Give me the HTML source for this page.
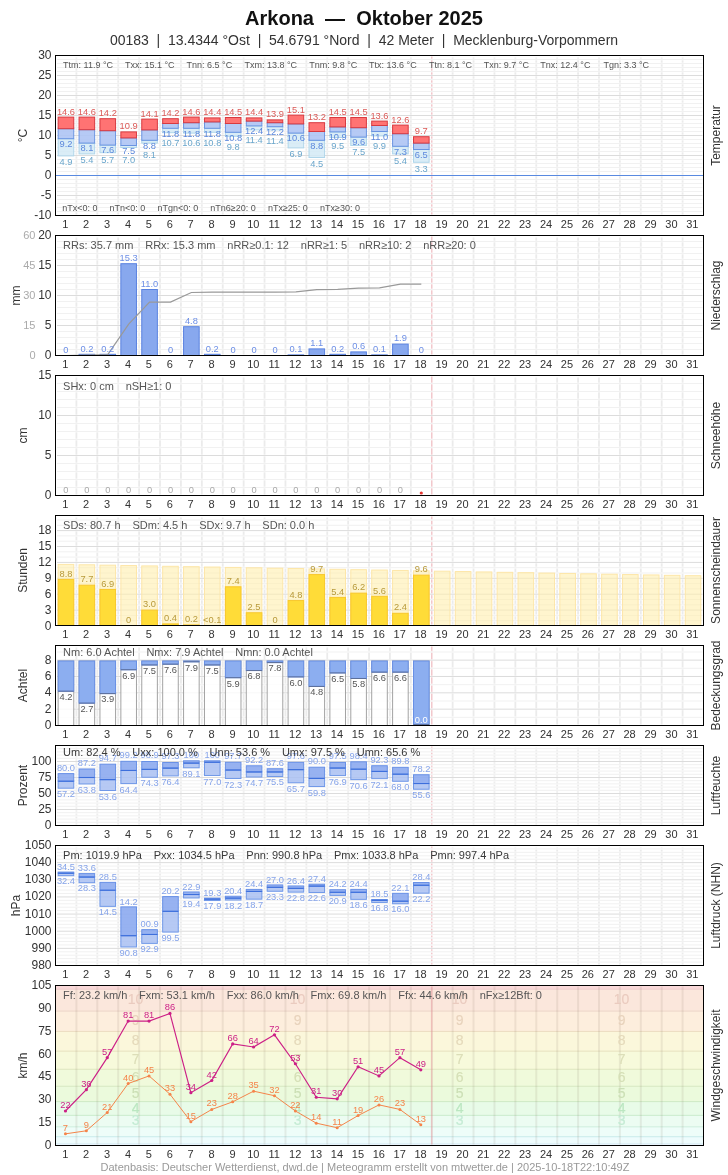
<!DOCTYPE html>
<html><head><meta charset="utf-8"><title>Arkona - Oktober 2025</title>
<style>
html,body{margin:0;padding:0;background:#fff;}
svg{display:block;}
svg text{font-family:"Liberation Sans",Arial,sans-serif;white-space:pre;}
</style></head><body>
<svg width="728" height="1175" viewBox="0 0 728 1175">
<rect x="0" y="0" width="728" height="1175" fill="#fff"/>
<text x="364" y="24.7" font-size="20" fill="#111" text-anchor="middle" font-weight="bold">Arkona  —  Oktober 2025</text>
<text x="364" y="44.8" font-size="14" fill="#333" text-anchor="middle">00183  |  13.4344 °Ost  |  54.6791 °Nord  |  42 Meter  |  Mecklenburg-Vorpommern</text>
<line x1="76.4" y1="57.5" x2="76.4" y2="214.5" stroke="#ebebeb" stroke-width="1.8"/>
<line x1="97.31" y1="57.5" x2="97.31" y2="214.5" stroke="#ebebeb" stroke-width="1.8"/>
<line x1="118.21" y1="57.5" x2="118.21" y2="214.5" stroke="#ebebeb" stroke-width="1.8"/>
<line x1="139.11" y1="57.5" x2="139.11" y2="214.5" stroke="#ebebeb" stroke-width="1.8"/>
<line x1="160.02" y1="57.5" x2="160.02" y2="214.5" stroke="#ebebeb" stroke-width="1.8"/>
<line x1="180.92" y1="57.5" x2="180.92" y2="214.5" stroke="#ebebeb" stroke-width="1.8"/>
<line x1="201.82" y1="57.5" x2="201.82" y2="214.5" stroke="#ebebeb" stroke-width="1.8"/>
<line x1="222.73" y1="57.5" x2="222.73" y2="214.5" stroke="#ebebeb" stroke-width="1.8"/>
<line x1="243.63" y1="57.5" x2="243.63" y2="214.5" stroke="#ebebeb" stroke-width="1.8"/>
<line x1="264.53" y1="57.5" x2="264.53" y2="214.5" stroke="#ebebeb" stroke-width="1.8"/>
<line x1="285.44" y1="57.5" x2="285.44" y2="214.5" stroke="#ebebeb" stroke-width="1.8"/>
<line x1="306.34" y1="57.5" x2="306.34" y2="214.5" stroke="#ebebeb" stroke-width="1.8"/>
<line x1="327.24" y1="57.5" x2="327.24" y2="214.5" stroke="#ebebeb" stroke-width="1.8"/>
<line x1="348.15" y1="57.5" x2="348.15" y2="214.5" stroke="#ebebeb" stroke-width="1.8"/>
<line x1="369.05" y1="57.5" x2="369.05" y2="214.5" stroke="#ebebeb" stroke-width="1.8"/>
<line x1="389.95" y1="57.5" x2="389.95" y2="214.5" stroke="#ebebeb" stroke-width="1.8"/>
<line x1="410.85" y1="57.5" x2="410.85" y2="214.5" stroke="#ebebeb" stroke-width="1.8"/>
<line x1="452.66" y1="57.5" x2="452.66" y2="214.5" stroke="#ebebeb" stroke-width="1.8"/>
<line x1="473.56" y1="57.5" x2="473.56" y2="214.5" stroke="#ebebeb" stroke-width="1.8"/>
<line x1="494.47" y1="57.5" x2="494.47" y2="214.5" stroke="#ebebeb" stroke-width="1.8"/>
<line x1="515.37" y1="57.5" x2="515.37" y2="214.5" stroke="#ebebeb" stroke-width="1.8"/>
<line x1="536.27" y1="57.5" x2="536.27" y2="214.5" stroke="#ebebeb" stroke-width="1.8"/>
<line x1="557.18" y1="57.5" x2="557.18" y2="214.5" stroke="#ebebeb" stroke-width="1.8"/>
<line x1="578.08" y1="57.5" x2="578.08" y2="214.5" stroke="#ebebeb" stroke-width="1.8"/>
<line x1="598.98" y1="57.5" x2="598.98" y2="214.5" stroke="#ebebeb" stroke-width="1.8"/>
<line x1="619.89" y1="57.5" x2="619.89" y2="214.5" stroke="#ebebeb" stroke-width="1.8"/>
<line x1="640.79" y1="57.5" x2="640.79" y2="214.5" stroke="#ebebeb" stroke-width="1.8"/>
<line x1="661.69" y1="57.5" x2="661.69" y2="214.5" stroke="#ebebeb" stroke-width="1.8"/>
<line x1="682.6" y1="57.5" x2="682.6" y2="214.5" stroke="#ebebeb" stroke-width="1.8"/>
<line x1="431.76" y1="56.5" x2="431.76" y2="214.5" stroke="#f2c8cc" stroke-width="1.5"/>
<line x1="57" y1="211.5" x2="702.5" y2="211.5" stroke="#fff" stroke-width="2.2" stroke-opacity="0.6"/>
<line x1="57" y1="211.5" x2="702.5" y2="211.5" stroke="#f1f1f1" stroke-width="1"/>
<line x1="57" y1="207.5" x2="702.5" y2="207.5" stroke="#fff" stroke-width="2.2" stroke-opacity="0.6"/>
<line x1="57" y1="207.5" x2="702.5" y2="207.5" stroke="#f1f1f1" stroke-width="1"/>
<line x1="57" y1="203.5" x2="702.5" y2="203.5" stroke="#fff" stroke-width="2.2" stroke-opacity="0.6"/>
<line x1="57" y1="203.5" x2="702.5" y2="203.5" stroke="#f1f1f1" stroke-width="1"/>
<line x1="57" y1="199.5" x2="702.5" y2="199.5" stroke="#fff" stroke-width="2.2" stroke-opacity="0.6"/>
<line x1="57" y1="199.5" x2="702.5" y2="199.5" stroke="#f1f1f1" stroke-width="1"/>
<line x1="57" y1="195.5" x2="702.5" y2="195.5" stroke="#fff" stroke-width="2.2" stroke-opacity="0.6"/>
<line x1="57" y1="195.5" x2="702.5" y2="195.5" stroke="#dcdcdc" stroke-width="1"/>
<line x1="57" y1="191.5" x2="702.5" y2="191.5" stroke="#fff" stroke-width="2.2" stroke-opacity="0.6"/>
<line x1="57" y1="191.5" x2="702.5" y2="191.5" stroke="#f1f1f1" stroke-width="1"/>
<line x1="57" y1="187.5" x2="702.5" y2="187.5" stroke="#fff" stroke-width="2.2" stroke-opacity="0.6"/>
<line x1="57" y1="187.5" x2="702.5" y2="187.5" stroke="#f1f1f1" stroke-width="1"/>
<line x1="57" y1="183.5" x2="702.5" y2="183.5" stroke="#fff" stroke-width="2.2" stroke-opacity="0.6"/>
<line x1="57" y1="183.5" x2="702.5" y2="183.5" stroke="#f1f1f1" stroke-width="1"/>
<line x1="57" y1="179.5" x2="702.5" y2="179.5" stroke="#fff" stroke-width="2.2" stroke-opacity="0.6"/>
<line x1="57" y1="179.5" x2="702.5" y2="179.5" stroke="#f1f1f1" stroke-width="1"/>
<line x1="57" y1="175.5" x2="702.5" y2="175.5" stroke="#fff" stroke-width="2.2" stroke-opacity="0.6"/>
<line x1="57" y1="175.5" x2="702.5" y2="175.5" stroke="#dcdcdc" stroke-width="1"/>
<line x1="57" y1="171.5" x2="702.5" y2="171.5" stroke="#fff" stroke-width="2.2" stroke-opacity="0.6"/>
<line x1="57" y1="171.5" x2="702.5" y2="171.5" stroke="#f1f1f1" stroke-width="1"/>
<line x1="57" y1="167.5" x2="702.5" y2="167.5" stroke="#fff" stroke-width="2.2" stroke-opacity="0.6"/>
<line x1="57" y1="167.5" x2="702.5" y2="167.5" stroke="#f1f1f1" stroke-width="1"/>
<line x1="57" y1="163.5" x2="702.5" y2="163.5" stroke="#fff" stroke-width="2.2" stroke-opacity="0.6"/>
<line x1="57" y1="163.5" x2="702.5" y2="163.5" stroke="#f1f1f1" stroke-width="1"/>
<line x1="57" y1="159.5" x2="702.5" y2="159.5" stroke="#fff" stroke-width="2.2" stroke-opacity="0.6"/>
<line x1="57" y1="159.5" x2="702.5" y2="159.5" stroke="#f1f1f1" stroke-width="1"/>
<line x1="57" y1="155.5" x2="702.5" y2="155.5" stroke="#fff" stroke-width="2.2" stroke-opacity="0.6"/>
<line x1="57" y1="155.5" x2="702.5" y2="155.5" stroke="#dcdcdc" stroke-width="1"/>
<line x1="57" y1="151.5" x2="702.5" y2="151.5" stroke="#fff" stroke-width="2.2" stroke-opacity="0.6"/>
<line x1="57" y1="151.5" x2="702.5" y2="151.5" stroke="#f1f1f1" stroke-width="1"/>
<line x1="57" y1="147.5" x2="702.5" y2="147.5" stroke="#fff" stroke-width="2.2" stroke-opacity="0.6"/>
<line x1="57" y1="147.5" x2="702.5" y2="147.5" stroke="#f1f1f1" stroke-width="1"/>
<line x1="57" y1="143.5" x2="702.5" y2="143.5" stroke="#fff" stroke-width="2.2" stroke-opacity="0.6"/>
<line x1="57" y1="143.5" x2="702.5" y2="143.5" stroke="#f1f1f1" stroke-width="1"/>
<line x1="57" y1="139.5" x2="702.5" y2="139.5" stroke="#fff" stroke-width="2.2" stroke-opacity="0.6"/>
<line x1="57" y1="139.5" x2="702.5" y2="139.5" stroke="#f1f1f1" stroke-width="1"/>
<line x1="57" y1="135.5" x2="702.5" y2="135.5" stroke="#fff" stroke-width="2.2" stroke-opacity="0.6"/>
<line x1="57" y1="135.5" x2="702.5" y2="135.5" stroke="#dcdcdc" stroke-width="1"/>
<line x1="57" y1="131.5" x2="702.5" y2="131.5" stroke="#fff" stroke-width="2.2" stroke-opacity="0.6"/>
<line x1="57" y1="131.5" x2="702.5" y2="131.5" stroke="#f1f1f1" stroke-width="1"/>
<line x1="57" y1="127.5" x2="702.5" y2="127.5" stroke="#fff" stroke-width="2.2" stroke-opacity="0.6"/>
<line x1="57" y1="127.5" x2="702.5" y2="127.5" stroke="#f1f1f1" stroke-width="1"/>
<line x1="57" y1="123.5" x2="702.5" y2="123.5" stroke="#fff" stroke-width="2.2" stroke-opacity="0.6"/>
<line x1="57" y1="123.5" x2="702.5" y2="123.5" stroke="#f1f1f1" stroke-width="1"/>
<line x1="57" y1="119.5" x2="702.5" y2="119.5" stroke="#fff" stroke-width="2.2" stroke-opacity="0.6"/>
<line x1="57" y1="119.5" x2="702.5" y2="119.5" stroke="#f1f1f1" stroke-width="1"/>
<line x1="57" y1="115.5" x2="702.5" y2="115.5" stroke="#fff" stroke-width="2.2" stroke-opacity="0.6"/>
<line x1="57" y1="115.5" x2="702.5" y2="115.5" stroke="#dcdcdc" stroke-width="1"/>
<line x1="57" y1="111.5" x2="702.5" y2="111.5" stroke="#fff" stroke-width="2.2" stroke-opacity="0.6"/>
<line x1="57" y1="111.5" x2="702.5" y2="111.5" stroke="#f1f1f1" stroke-width="1"/>
<line x1="57" y1="107.5" x2="702.5" y2="107.5" stroke="#fff" stroke-width="2.2" stroke-opacity="0.6"/>
<line x1="57" y1="107.5" x2="702.5" y2="107.5" stroke="#f1f1f1" stroke-width="1"/>
<line x1="57" y1="103.5" x2="702.5" y2="103.5" stroke="#fff" stroke-width="2.2" stroke-opacity="0.6"/>
<line x1="57" y1="103.5" x2="702.5" y2="103.5" stroke="#f1f1f1" stroke-width="1"/>
<line x1="57" y1="99.5" x2="702.5" y2="99.5" stroke="#fff" stroke-width="2.2" stroke-opacity="0.6"/>
<line x1="57" y1="99.5" x2="702.5" y2="99.5" stroke="#f1f1f1" stroke-width="1"/>
<line x1="57" y1="95.5" x2="702.5" y2="95.5" stroke="#fff" stroke-width="2.2" stroke-opacity="0.6"/>
<line x1="57" y1="95.5" x2="702.5" y2="95.5" stroke="#dcdcdc" stroke-width="1"/>
<line x1="57" y1="91.5" x2="702.5" y2="91.5" stroke="#fff" stroke-width="2.2" stroke-opacity="0.6"/>
<line x1="57" y1="91.5" x2="702.5" y2="91.5" stroke="#f1f1f1" stroke-width="1"/>
<line x1="57" y1="87.5" x2="702.5" y2="87.5" stroke="#fff" stroke-width="2.2" stroke-opacity="0.6"/>
<line x1="57" y1="87.5" x2="702.5" y2="87.5" stroke="#f1f1f1" stroke-width="1"/>
<line x1="57" y1="83.5" x2="702.5" y2="83.5" stroke="#fff" stroke-width="2.2" stroke-opacity="0.6"/>
<line x1="57" y1="83.5" x2="702.5" y2="83.5" stroke="#f1f1f1" stroke-width="1"/>
<line x1="57" y1="79.5" x2="702.5" y2="79.5" stroke="#fff" stroke-width="2.2" stroke-opacity="0.6"/>
<line x1="57" y1="79.5" x2="702.5" y2="79.5" stroke="#f1f1f1" stroke-width="1"/>
<line x1="57" y1="75.5" x2="702.5" y2="75.5" stroke="#fff" stroke-width="2.2" stroke-opacity="0.6"/>
<line x1="57" y1="75.5" x2="702.5" y2="75.5" stroke="#dcdcdc" stroke-width="1"/>
<line x1="57" y1="71.5" x2="702.5" y2="71.5" stroke="#fff" stroke-width="2.2" stroke-opacity="0.6"/>
<line x1="57" y1="71.5" x2="702.5" y2="71.5" stroke="#f1f1f1" stroke-width="1"/>
<line x1="57" y1="67.5" x2="702.5" y2="67.5" stroke="#fff" stroke-width="2.2" stroke-opacity="0.6"/>
<line x1="57" y1="67.5" x2="702.5" y2="67.5" stroke="#f1f1f1" stroke-width="1"/>
<line x1="57" y1="63.5" x2="702.5" y2="63.5" stroke="#fff" stroke-width="2.2" stroke-opacity="0.6"/>
<line x1="57" y1="63.5" x2="702.5" y2="63.5" stroke="#f1f1f1" stroke-width="1"/>
<line x1="57" y1="59.5" x2="702.5" y2="59.5" stroke="#fff" stroke-width="2.2" stroke-opacity="0.6"/>
<line x1="57" y1="59.5" x2="702.5" y2="59.5" stroke="#f1f1f1" stroke-width="1"/>
<line x1="55.5" y1="175.5" x2="703.5" y2="175.5" stroke="#5a8ae0" stroke-width="1"/>
<rect x="58.15" y="138.7" width="15.6" height="17.2" fill="#d4eaf6" stroke="#b0d6ea" stroke-width="1" fill-opacity="0.85"/>
<rect x="58.15" y="128.7" width="15.6" height="10" fill="#aec4f4" stroke="#6a94e2" stroke-width="1" fill-opacity="0.9"/>
<rect x="58.15" y="117.1" width="15.6" height="11.6" fill="#ff6b6b" stroke="#d83a40" stroke-width="1" fill-opacity="0.95"/>
<rect x="79.05" y="143.1" width="15.6" height="10.8" fill="#d4eaf6" stroke="#b0d6ea" stroke-width="1" fill-opacity="0.85"/>
<rect x="79.05" y="129.7" width="15.6" height="13.4" fill="#aec4f4" stroke="#6a94e2" stroke-width="1" fill-opacity="0.9"/>
<rect x="79.05" y="117.1" width="15.6" height="12.6" fill="#ff6b6b" stroke="#d83a40" stroke-width="1" fill-opacity="0.95"/>
<rect x="99.96" y="145.1" width="15.6" height="7.6" fill="#d4eaf6" stroke="#b0d6ea" stroke-width="1" fill-opacity="0.85"/>
<rect x="99.96" y="130.7" width="15.6" height="14.4" fill="#aec4f4" stroke="#6a94e2" stroke-width="1" fill-opacity="0.9"/>
<rect x="99.96" y="118.7" width="15.6" height="12" fill="#ff6b6b" stroke="#d83a40" stroke-width="1" fill-opacity="0.95"/>
<rect x="120.86" y="145.5" width="15.6" height="2" fill="#d4eaf6" stroke="#b0d6ea" stroke-width="1" fill-opacity="0.85"/>
<rect x="120.86" y="137.9" width="15.6" height="7.6" fill="#aec4f4" stroke="#6a94e2" stroke-width="1" fill-opacity="0.9"/>
<rect x="120.86" y="131.9" width="15.6" height="6" fill="#ff6b6b" stroke="#d83a40" stroke-width="1" fill-opacity="0.95"/>
<rect x="141.76" y="140.3" width="15.6" height="2.8" fill="#d4eaf6" stroke="#b0d6ea" stroke-width="1" fill-opacity="0.85"/>
<rect x="141.76" y="129.9" width="15.6" height="10.4" fill="#aec4f4" stroke="#6a94e2" stroke-width="1" fill-opacity="0.9"/>
<rect x="141.76" y="119.1" width="15.6" height="10.8" fill="#ff6b6b" stroke="#d83a40" stroke-width="1" fill-opacity="0.95"/>
<rect x="162.67" y="128.3" width="15.6" height="4.4" fill="#d4eaf6" stroke="#b0d6ea" stroke-width="1" fill-opacity="0.85"/>
<rect x="162.67" y="123.5" width="15.6" height="4.8" fill="#aec4f4" stroke="#6a94e2" stroke-width="1" fill-opacity="0.9"/>
<rect x="162.67" y="118.7" width="15.6" height="4.8" fill="#ff6b6b" stroke="#d83a40" stroke-width="1" fill-opacity="0.95"/>
<rect x="183.57" y="128.3" width="15.6" height="4.8" fill="#d4eaf6" stroke="#b0d6ea" stroke-width="1" fill-opacity="0.85"/>
<rect x="183.57" y="122.7" width="15.6" height="5.6" fill="#aec4f4" stroke="#6a94e2" stroke-width="1" fill-opacity="0.9"/>
<rect x="183.57" y="117.1" width="15.6" height="5.6" fill="#ff6b6b" stroke="#d83a40" stroke-width="1" fill-opacity="0.95"/>
<rect x="204.47" y="128.3" width="15.6" height="4" fill="#d4eaf6" stroke="#b0d6ea" stroke-width="1" fill-opacity="0.85"/>
<rect x="204.47" y="121.9" width="15.6" height="6.4" fill="#aec4f4" stroke="#6a94e2" stroke-width="1" fill-opacity="0.9"/>
<rect x="204.47" y="117.9" width="15.6" height="4" fill="#ff6b6b" stroke="#d83a40" stroke-width="1" fill-opacity="0.95"/>
<rect x="225.38" y="132.3" width="15.6" height="4" fill="#d4eaf6" stroke="#b0d6ea" stroke-width="1" fill-opacity="0.85"/>
<rect x="225.38" y="123.5" width="15.6" height="8.8" fill="#aec4f4" stroke="#6a94e2" stroke-width="1" fill-opacity="0.9"/>
<rect x="225.38" y="117.5" width="15.6" height="6" fill="#ff6b6b" stroke="#d83a40" stroke-width="1" fill-opacity="0.95"/>
<rect x="246.28" y="125.9" width="15.6" height="4" fill="#d4eaf6" stroke="#b0d6ea" stroke-width="1" fill-opacity="0.85"/>
<rect x="246.28" y="121.1" width="15.6" height="4.8" fill="#aec4f4" stroke="#6a94e2" stroke-width="1" fill-opacity="0.9"/>
<rect x="246.28" y="117.9" width="15.6" height="3.2" fill="#ff6b6b" stroke="#d83a40" stroke-width="1" fill-opacity="0.95"/>
<rect x="267.18" y="126.7" width="15.6" height="3.2" fill="#d4eaf6" stroke="#b0d6ea" stroke-width="1" fill-opacity="0.85"/>
<rect x="267.18" y="122.7" width="15.6" height="4" fill="#aec4f4" stroke="#6a94e2" stroke-width="1" fill-opacity="0.9"/>
<rect x="267.18" y="119.9" width="15.6" height="2.8" fill="#ff6b6b" stroke="#d83a40" stroke-width="1" fill-opacity="0.95"/>
<rect x="288.09" y="133.1" width="15.6" height="14.8" fill="#d4eaf6" stroke="#b0d6ea" stroke-width="1" fill-opacity="0.85"/>
<rect x="288.09" y="123.9" width="15.6" height="9.2" fill="#aec4f4" stroke="#6a94e2" stroke-width="1" fill-opacity="0.9"/>
<rect x="288.09" y="115.1" width="15.6" height="8.8" fill="#ff6b6b" stroke="#d83a40" stroke-width="1" fill-opacity="0.95"/>
<rect x="308.99" y="140.3" width="15.6" height="17.2" fill="#d4eaf6" stroke="#b0d6ea" stroke-width="1" fill-opacity="0.85"/>
<rect x="308.99" y="131.5" width="15.6" height="8.8" fill="#aec4f4" stroke="#6a94e2" stroke-width="1" fill-opacity="0.9"/>
<rect x="308.99" y="122.7" width="15.6" height="8.8" fill="#ff6b6b" stroke="#d83a40" stroke-width="1" fill-opacity="0.95"/>
<rect x="329.89" y="131.9" width="15.6" height="5.6" fill="#d4eaf6" stroke="#b0d6ea" stroke-width="1" fill-opacity="0.85"/>
<rect x="329.89" y="126.9" width="15.6" height="5" fill="#aec4f4" stroke="#6a94e2" stroke-width="1" fill-opacity="0.9"/>
<rect x="329.89" y="117.5" width="15.6" height="9.4" fill="#ff6b6b" stroke="#d83a40" stroke-width="1" fill-opacity="0.95"/>
<rect x="350.8" y="137.1" width="15.6" height="8.4" fill="#d4eaf6" stroke="#b0d6ea" stroke-width="1" fill-opacity="0.85"/>
<rect x="350.8" y="127.7" width="15.6" height="9.4" fill="#aec4f4" stroke="#6a94e2" stroke-width="1" fill-opacity="0.9"/>
<rect x="350.8" y="117.5" width="15.6" height="10.2" fill="#ff6b6b" stroke="#d83a40" stroke-width="1" fill-opacity="0.95"/>
<rect x="371.7" y="131.5" width="15.6" height="4.4" fill="#d4eaf6" stroke="#b0d6ea" stroke-width="1" fill-opacity="0.85"/>
<rect x="371.7" y="125.5" width="15.6" height="6" fill="#aec4f4" stroke="#6a94e2" stroke-width="1" fill-opacity="0.9"/>
<rect x="371.7" y="121.1" width="15.6" height="4.4" fill="#ff6b6b" stroke="#d83a40" stroke-width="1" fill-opacity="0.95"/>
<rect x="392.6" y="146.3" width="15.6" height="7.6" fill="#d4eaf6" stroke="#b0d6ea" stroke-width="1" fill-opacity="0.85"/>
<rect x="392.6" y="133.7" width="15.6" height="12.6" fill="#aec4f4" stroke="#6a94e2" stroke-width="1" fill-opacity="0.9"/>
<rect x="392.6" y="125.1" width="15.6" height="8.6" fill="#ff6b6b" stroke="#d83a40" stroke-width="1" fill-opacity="0.95"/>
<rect x="413.51" y="149.5" width="15.6" height="12.8" fill="#d4eaf6" stroke="#b0d6ea" stroke-width="1" fill-opacity="0.85"/>
<rect x="413.51" y="143.1" width="15.6" height="6.4" fill="#aec4f4" stroke="#6a94e2" stroke-width="1" fill-opacity="0.9"/>
<rect x="413.51" y="136.7" width="15.6" height="6.4" fill="#ff6b6b" stroke="#d83a40" stroke-width="1" fill-opacity="0.95"/>
<text x="65.95" y="114.6" font-size="9.3" fill="#dc5a58" text-anchor="middle">14.6</text>
<text x="65.95" y="146.9" font-size="9.3" fill="#5b87dc" text-anchor="middle">9.2</text>
<text x="65.95" y="165.1" font-size="9.3" fill="#6aa6cc" text-anchor="middle">4.9</text>
<text x="86.85" y="114.6" font-size="9.3" fill="#dc5a58" text-anchor="middle">14.6</text>
<text x="86.85" y="151.3" font-size="9.3" fill="#5b87dc" text-anchor="middle">8.1</text>
<text x="86.85" y="163.1" font-size="9.3" fill="#6aa6cc" text-anchor="middle">5.4</text>
<text x="107.76" y="116.2" font-size="9.3" fill="#dc5a58" text-anchor="middle">14.2</text>
<text x="107.76" y="153.3" font-size="9.3" fill="#5b87dc" text-anchor="middle">7.6</text>
<text x="107.76" y="162.5" font-size="9.3" fill="#6aa6cc" text-anchor="middle">5.7</text>
<text x="128.66" y="129.4" font-size="9.3" fill="#dc5a58" text-anchor="middle">10.9</text>
<text x="128.66" y="153.7" font-size="9.3" fill="#5b87dc" text-anchor="middle">7.5</text>
<text x="128.66" y="162.9" font-size="9.3" fill="#6aa6cc" text-anchor="middle">7.0</text>
<text x="149.56" y="116.6" font-size="9.3" fill="#dc5a58" text-anchor="middle">14.1</text>
<text x="149.56" y="148.5" font-size="9.3" fill="#5b87dc" text-anchor="middle">8.8</text>
<text x="149.56" y="157.7" font-size="9.3" fill="#6aa6cc" text-anchor="middle">8.1</text>
<text x="170.47" y="116.2" font-size="9.3" fill="#dc5a58" text-anchor="middle">14.2</text>
<text x="170.47" y="136.5" font-size="9.3" fill="#5b87dc" text-anchor="middle">11.8</text>
<text x="170.47" y="145.7" font-size="9.3" fill="#6aa6cc" text-anchor="middle">10.7</text>
<text x="191.37" y="114.6" font-size="9.3" fill="#dc5a58" text-anchor="middle">14.6</text>
<text x="191.37" y="136.5" font-size="9.3" fill="#5b87dc" text-anchor="middle">11.8</text>
<text x="191.37" y="145.7" font-size="9.3" fill="#6aa6cc" text-anchor="middle">10.6</text>
<text x="212.27" y="115.4" font-size="9.3" fill="#dc5a58" text-anchor="middle">14.4</text>
<text x="212.27" y="136.5" font-size="9.3" fill="#5b87dc" text-anchor="middle">11.8</text>
<text x="212.27" y="145.7" font-size="9.3" fill="#6aa6cc" text-anchor="middle">10.8</text>
<text x="233.18" y="115" font-size="9.3" fill="#dc5a58" text-anchor="middle">14.5</text>
<text x="233.18" y="140.5" font-size="9.3" fill="#5b87dc" text-anchor="middle">10.8</text>
<text x="233.18" y="149.7" font-size="9.3" fill="#6aa6cc" text-anchor="middle">9.8</text>
<text x="254.08" y="115.4" font-size="9.3" fill="#dc5a58" text-anchor="middle">14.4</text>
<text x="254.08" y="134.1" font-size="9.3" fill="#5b87dc" text-anchor="middle">12.4</text>
<text x="254.08" y="143.3" font-size="9.3" fill="#6aa6cc" text-anchor="middle">11.4</text>
<text x="274.98" y="117.4" font-size="9.3" fill="#dc5a58" text-anchor="middle">13.9</text>
<text x="274.98" y="134.9" font-size="9.3" fill="#5b87dc" text-anchor="middle">12.2</text>
<text x="274.98" y="144.1" font-size="9.3" fill="#6aa6cc" text-anchor="middle">11.4</text>
<text x="295.89" y="112.6" font-size="9.3" fill="#dc5a58" text-anchor="middle">15.1</text>
<text x="295.89" y="141.3" font-size="9.3" fill="#5b87dc" text-anchor="middle">10.6</text>
<text x="295.89" y="157.1" font-size="9.3" fill="#6aa6cc" text-anchor="middle">6.9</text>
<text x="316.79" y="120.2" font-size="9.3" fill="#dc5a58" text-anchor="middle">13.2</text>
<text x="316.79" y="148.5" font-size="9.3" fill="#5b87dc" text-anchor="middle">8.8</text>
<text x="316.79" y="166.7" font-size="9.3" fill="#6aa6cc" text-anchor="middle">4.5</text>
<text x="337.69" y="115" font-size="9.3" fill="#dc5a58" text-anchor="middle">14.5</text>
<text x="337.69" y="140.1" font-size="9.3" fill="#5b87dc" text-anchor="middle">10.9</text>
<text x="337.69" y="149.3" font-size="9.3" fill="#6aa6cc" text-anchor="middle">9.5</text>
<text x="358.6" y="115" font-size="9.3" fill="#dc5a58" text-anchor="middle">14.5</text>
<text x="358.6" y="145.3" font-size="9.3" fill="#5b87dc" text-anchor="middle">9.6</text>
<text x="358.6" y="154.7" font-size="9.3" fill="#6aa6cc" text-anchor="middle">7.5</text>
<text x="379.5" y="118.6" font-size="9.3" fill="#dc5a58" text-anchor="middle">13.6</text>
<text x="379.5" y="139.7" font-size="9.3" fill="#5b87dc" text-anchor="middle">11.0</text>
<text x="379.5" y="148.9" font-size="9.3" fill="#6aa6cc" text-anchor="middle">9.9</text>
<text x="400.4" y="122.6" font-size="9.3" fill="#dc5a58" text-anchor="middle">12.6</text>
<text x="400.4" y="154.5" font-size="9.3" fill="#5b87dc" text-anchor="middle">7.3</text>
<text x="400.4" y="163.7" font-size="9.3" fill="#6aa6cc" text-anchor="middle">5.4</text>
<text x="421.31" y="134.2" font-size="9.3" fill="#dc5a58" text-anchor="middle">9.7</text>
<text x="421.31" y="157.7" font-size="9.3" fill="#5b87dc" text-anchor="middle">6.5</text>
<text x="421.31" y="171.5" font-size="9.3" fill="#6aa6cc" text-anchor="middle">3.3</text>
<rect x="55.5" y="55.5" width="648" height="160" fill="none" stroke="#000" stroke-width="1"/>
<text x="63.1" y="68" font-size="9" fill="#555" text-anchor="start">Ttm: 11.9 °C</text>
<text x="125" y="68" font-size="9" fill="#555" text-anchor="start">Txx: 15.1 °C</text>
<text x="186.6" y="68" font-size="9" fill="#555" text-anchor="start">Tnn: 6.5 °C</text>
<text x="244.4" y="68" font-size="9" fill="#555" text-anchor="start">Txm: 13.8 °C</text>
<text x="309.2" y="68" font-size="9" fill="#555" text-anchor="start">Tnm: 9.8 °C</text>
<text x="369.1" y="68" font-size="9" fill="#555" text-anchor="start">Ttx: 13.6 °C</text>
<text x="428.9" y="68" font-size="9" fill="#555" text-anchor="start">Ttn: 8.1 °C</text>
<text x="483.8" y="68" font-size="9" fill="#555" text-anchor="start">Txn: 9.7 °C</text>
<text x="540.3" y="68" font-size="9" fill="#555" text-anchor="start">Tnx: 12.4 °C</text>
<text x="603.4" y="68" font-size="9" fill="#555" text-anchor="start">Tgn: 3.3 °C</text>
<text x="62.2" y="211.1" font-size="9" fill="#555" text-anchor="start">nTx&lt;0: 0</text>
<text x="109.57" y="211.1" font-size="9" fill="#555" text-anchor="start">nTn&lt;0: 0</text>
<text x="157.45" y="211.1" font-size="9" fill="#555" text-anchor="start">nTgn&lt;0: 0</text>
<text x="210.33" y="211.1" font-size="9" fill="#555" text-anchor="start">nTn6≥20: 0</text>
<text x="267.9" y="211.1" font-size="9" fill="#555" text-anchor="start">nTx≥25: 0</text>
<text x="319.96" y="211.1" font-size="9" fill="#555" text-anchor="start">nTx≥30: 0</text>
<text x="51.5" y="59" font-size="12" fill="#333" text-anchor="end">30</text>
<text x="51.5" y="79" font-size="12" fill="#333" text-anchor="end">25</text>
<text x="51.5" y="99" font-size="12" fill="#333" text-anchor="end">20</text>
<text x="51.5" y="119" font-size="12" fill="#333" text-anchor="end">15</text>
<text x="51.5" y="139" font-size="12" fill="#333" text-anchor="end">10</text>
<text x="51.5" y="159" font-size="12" fill="#333" text-anchor="end">5</text>
<text x="51.5" y="179" font-size="12" fill="#333" text-anchor="end">0</text>
<text x="51.5" y="199" font-size="12" fill="#333" text-anchor="end">-5</text>
<text x="51.5" y="219" font-size="12" fill="#333" text-anchor="end">-10</text>
<text x="0" y="0" font-size="12" fill="#333" text-anchor="middle" transform="translate(27,135.5) rotate(-90)">°C</text>
<text x="0" y="0" font-size="12" fill="#333" text-anchor="middle" transform="translate(720,135.5) rotate(-90)">Temperatur</text>
<text x="65.25" y="228" font-size="11" fill="#333" text-anchor="middle">1</text>
<text x="86.15" y="228" font-size="11" fill="#333" text-anchor="middle">2</text>
<text x="107.06" y="228" font-size="11" fill="#333" text-anchor="middle">3</text>
<text x="127.96" y="228" font-size="11" fill="#333" text-anchor="middle">4</text>
<text x="148.86" y="228" font-size="11" fill="#333" text-anchor="middle">5</text>
<text x="169.77" y="228" font-size="11" fill="#333" text-anchor="middle">6</text>
<text x="190.67" y="228" font-size="11" fill="#333" text-anchor="middle">7</text>
<text x="211.57" y="228" font-size="11" fill="#333" text-anchor="middle">8</text>
<text x="232.48" y="228" font-size="11" fill="#333" text-anchor="middle">9</text>
<text x="253.38" y="228" font-size="11" fill="#333" text-anchor="middle">10</text>
<text x="274.28" y="228" font-size="11" fill="#333" text-anchor="middle">11</text>
<text x="295.19" y="228" font-size="11" fill="#333" text-anchor="middle">12</text>
<text x="316.09" y="228" font-size="11" fill="#333" text-anchor="middle">13</text>
<text x="336.99" y="228" font-size="11" fill="#333" text-anchor="middle">14</text>
<text x="357.9" y="228" font-size="11" fill="#333" text-anchor="middle">15</text>
<text x="378.8" y="228" font-size="11" fill="#333" text-anchor="middle">16</text>
<text x="399.7" y="228" font-size="11" fill="#333" text-anchor="middle">17</text>
<text x="420.61" y="228" font-size="11" fill="#333" text-anchor="middle">18</text>
<text x="441.51" y="228" font-size="11" fill="#333" text-anchor="middle">19</text>
<text x="462.41" y="228" font-size="11" fill="#333" text-anchor="middle">20</text>
<text x="483.32" y="228" font-size="11" fill="#333" text-anchor="middle">21</text>
<text x="504.22" y="228" font-size="11" fill="#333" text-anchor="middle">22</text>
<text x="525.12" y="228" font-size="11" fill="#333" text-anchor="middle">23</text>
<text x="546.03" y="228" font-size="11" fill="#333" text-anchor="middle">24</text>
<text x="566.93" y="228" font-size="11" fill="#333" text-anchor="middle">25</text>
<text x="587.83" y="228" font-size="11" fill="#333" text-anchor="middle">26</text>
<text x="608.74" y="228" font-size="11" fill="#333" text-anchor="middle">27</text>
<text x="629.64" y="228" font-size="11" fill="#333" text-anchor="middle">28</text>
<text x="650.54" y="228" font-size="11" fill="#333" text-anchor="middle">29</text>
<text x="671.45" y="228" font-size="11" fill="#333" text-anchor="middle">30</text>
<text x="692.35" y="228" font-size="11" fill="#333" text-anchor="middle">31</text>
<line x1="76.4" y1="237.5" x2="76.4" y2="354.5" stroke="#ebebeb" stroke-width="1.8"/>
<line x1="97.31" y1="237.5" x2="97.31" y2="354.5" stroke="#ebebeb" stroke-width="1.8"/>
<line x1="118.21" y1="237.5" x2="118.21" y2="354.5" stroke="#ebebeb" stroke-width="1.8"/>
<line x1="139.11" y1="237.5" x2="139.11" y2="354.5" stroke="#ebebeb" stroke-width="1.8"/>
<line x1="160.02" y1="237.5" x2="160.02" y2="354.5" stroke="#ebebeb" stroke-width="1.8"/>
<line x1="180.92" y1="237.5" x2="180.92" y2="354.5" stroke="#ebebeb" stroke-width="1.8"/>
<line x1="201.82" y1="237.5" x2="201.82" y2="354.5" stroke="#ebebeb" stroke-width="1.8"/>
<line x1="222.73" y1="237.5" x2="222.73" y2="354.5" stroke="#ebebeb" stroke-width="1.8"/>
<line x1="243.63" y1="237.5" x2="243.63" y2="354.5" stroke="#ebebeb" stroke-width="1.8"/>
<line x1="264.53" y1="237.5" x2="264.53" y2="354.5" stroke="#ebebeb" stroke-width="1.8"/>
<line x1="285.44" y1="237.5" x2="285.44" y2="354.5" stroke="#ebebeb" stroke-width="1.8"/>
<line x1="306.34" y1="237.5" x2="306.34" y2="354.5" stroke="#ebebeb" stroke-width="1.8"/>
<line x1="327.24" y1="237.5" x2="327.24" y2="354.5" stroke="#ebebeb" stroke-width="1.8"/>
<line x1="348.15" y1="237.5" x2="348.15" y2="354.5" stroke="#ebebeb" stroke-width="1.8"/>
<line x1="369.05" y1="237.5" x2="369.05" y2="354.5" stroke="#ebebeb" stroke-width="1.8"/>
<line x1="389.95" y1="237.5" x2="389.95" y2="354.5" stroke="#ebebeb" stroke-width="1.8"/>
<line x1="410.85" y1="237.5" x2="410.85" y2="354.5" stroke="#ebebeb" stroke-width="1.8"/>
<line x1="452.66" y1="237.5" x2="452.66" y2="354.5" stroke="#ebebeb" stroke-width="1.8"/>
<line x1="473.56" y1="237.5" x2="473.56" y2="354.5" stroke="#ebebeb" stroke-width="1.8"/>
<line x1="494.47" y1="237.5" x2="494.47" y2="354.5" stroke="#ebebeb" stroke-width="1.8"/>
<line x1="515.37" y1="237.5" x2="515.37" y2="354.5" stroke="#ebebeb" stroke-width="1.8"/>
<line x1="536.27" y1="237.5" x2="536.27" y2="354.5" stroke="#ebebeb" stroke-width="1.8"/>
<line x1="557.18" y1="237.5" x2="557.18" y2="354.5" stroke="#ebebeb" stroke-width="1.8"/>
<line x1="578.08" y1="237.5" x2="578.08" y2="354.5" stroke="#ebebeb" stroke-width="1.8"/>
<line x1="598.98" y1="237.5" x2="598.98" y2="354.5" stroke="#ebebeb" stroke-width="1.8"/>
<line x1="619.89" y1="237.5" x2="619.89" y2="354.5" stroke="#ebebeb" stroke-width="1.8"/>
<line x1="640.79" y1="237.5" x2="640.79" y2="354.5" stroke="#ebebeb" stroke-width="1.8"/>
<line x1="661.69" y1="237.5" x2="661.69" y2="354.5" stroke="#ebebeb" stroke-width="1.8"/>
<line x1="682.6" y1="237.5" x2="682.6" y2="354.5" stroke="#ebebeb" stroke-width="1.8"/>
<line x1="431.76" y1="236.5" x2="431.76" y2="354.5" stroke="#f2c8cc" stroke-width="1.5"/>
<line x1="57" y1="349.5" x2="702.5" y2="349.5" stroke="#fff" stroke-width="2.2" stroke-opacity="0.6"/>
<line x1="57" y1="349.5" x2="702.5" y2="349.5" stroke="#f1f1f1" stroke-width="1"/>
<line x1="57" y1="343.5" x2="702.5" y2="343.5" stroke="#fff" stroke-width="2.2" stroke-opacity="0.6"/>
<line x1="57" y1="343.5" x2="702.5" y2="343.5" stroke="#f1f1f1" stroke-width="1"/>
<line x1="57" y1="337.5" x2="702.5" y2="337.5" stroke="#fff" stroke-width="2.2" stroke-opacity="0.6"/>
<line x1="57" y1="337.5" x2="702.5" y2="337.5" stroke="#f1f1f1" stroke-width="1"/>
<line x1="57" y1="331.5" x2="702.5" y2="331.5" stroke="#fff" stroke-width="2.2" stroke-opacity="0.6"/>
<line x1="57" y1="331.5" x2="702.5" y2="331.5" stroke="#f1f1f1" stroke-width="1"/>
<line x1="57" y1="325.5" x2="702.5" y2="325.5" stroke="#fff" stroke-width="2.2" stroke-opacity="0.6"/>
<line x1="57" y1="325.5" x2="702.5" y2="325.5" stroke="#dcdcdc" stroke-width="1"/>
<line x1="57" y1="319.5" x2="702.5" y2="319.5" stroke="#fff" stroke-width="2.2" stroke-opacity="0.6"/>
<line x1="57" y1="319.5" x2="702.5" y2="319.5" stroke="#f1f1f1" stroke-width="1"/>
<line x1="57" y1="313.5" x2="702.5" y2="313.5" stroke="#fff" stroke-width="2.2" stroke-opacity="0.6"/>
<line x1="57" y1="313.5" x2="702.5" y2="313.5" stroke="#f1f1f1" stroke-width="1"/>
<line x1="57" y1="307.5" x2="702.5" y2="307.5" stroke="#fff" stroke-width="2.2" stroke-opacity="0.6"/>
<line x1="57" y1="307.5" x2="702.5" y2="307.5" stroke="#f1f1f1" stroke-width="1"/>
<line x1="57" y1="301.5" x2="702.5" y2="301.5" stroke="#fff" stroke-width="2.2" stroke-opacity="0.6"/>
<line x1="57" y1="301.5" x2="702.5" y2="301.5" stroke="#f1f1f1" stroke-width="1"/>
<line x1="57" y1="295.5" x2="702.5" y2="295.5" stroke="#fff" stroke-width="2.2" stroke-opacity="0.6"/>
<line x1="57" y1="295.5" x2="702.5" y2="295.5" stroke="#dcdcdc" stroke-width="1"/>
<line x1="57" y1="289.5" x2="702.5" y2="289.5" stroke="#fff" stroke-width="2.2" stroke-opacity="0.6"/>
<line x1="57" y1="289.5" x2="702.5" y2="289.5" stroke="#f1f1f1" stroke-width="1"/>
<line x1="57" y1="283.5" x2="702.5" y2="283.5" stroke="#fff" stroke-width="2.2" stroke-opacity="0.6"/>
<line x1="57" y1="283.5" x2="702.5" y2="283.5" stroke="#f1f1f1" stroke-width="1"/>
<line x1="57" y1="277.5" x2="702.5" y2="277.5" stroke="#fff" stroke-width="2.2" stroke-opacity="0.6"/>
<line x1="57" y1="277.5" x2="702.5" y2="277.5" stroke="#f1f1f1" stroke-width="1"/>
<line x1="57" y1="271.5" x2="702.5" y2="271.5" stroke="#fff" stroke-width="2.2" stroke-opacity="0.6"/>
<line x1="57" y1="271.5" x2="702.5" y2="271.5" stroke="#f1f1f1" stroke-width="1"/>
<line x1="57" y1="265.5" x2="702.5" y2="265.5" stroke="#fff" stroke-width="2.2" stroke-opacity="0.6"/>
<line x1="57" y1="265.5" x2="702.5" y2="265.5" stroke="#dcdcdc" stroke-width="1"/>
<line x1="57" y1="259.5" x2="702.5" y2="259.5" stroke="#fff" stroke-width="2.2" stroke-opacity="0.6"/>
<line x1="57" y1="259.5" x2="702.5" y2="259.5" stroke="#f1f1f1" stroke-width="1"/>
<line x1="57" y1="253.5" x2="702.5" y2="253.5" stroke="#fff" stroke-width="2.2" stroke-opacity="0.6"/>
<line x1="57" y1="253.5" x2="702.5" y2="253.5" stroke="#f1f1f1" stroke-width="1"/>
<line x1="57" y1="247.5" x2="702.5" y2="247.5" stroke="#fff" stroke-width="2.2" stroke-opacity="0.6"/>
<line x1="57" y1="247.5" x2="702.5" y2="247.5" stroke="#f1f1f1" stroke-width="1"/>
<line x1="57" y1="241.5" x2="702.5" y2="241.5" stroke="#fff" stroke-width="2.2" stroke-opacity="0.6"/>
<line x1="57" y1="241.5" x2="702.5" y2="241.5" stroke="#f1f1f1" stroke-width="1"/>
<rect x="79.05" y="354.3" width="15.6" height="1.2" fill="#88a8ee" stroke="#5a82e0" stroke-width="1"/>
<rect x="99.96" y="354.3" width="15.6" height="1.2" fill="#88a8ee" stroke="#5a82e0" stroke-width="1"/>
<rect x="120.86" y="263.7" width="15.6" height="91.8" fill="#88a8ee" stroke="#5a82e0" stroke-width="1"/>
<rect x="141.76" y="289.5" width="15.6" height="66" fill="#88a8ee" stroke="#5a82e0" stroke-width="1"/>
<rect x="183.57" y="326.7" width="15.6" height="28.8" fill="#88a8ee" stroke="#5a82e0" stroke-width="1"/>
<rect x="204.47" y="354.3" width="15.6" height="1.2" fill="#88a8ee" stroke="#5a82e0" stroke-width="1"/>
<rect x="288.09" y="354.9" width="15.6" height="0.6" fill="#88a8ee" stroke="#5a82e0" stroke-width="1"/>
<rect x="308.99" y="348.9" width="15.6" height="6.6" fill="#88a8ee" stroke="#5a82e0" stroke-width="1"/>
<rect x="329.89" y="354.3" width="15.6" height="1.2" fill="#88a8ee" stroke="#5a82e0" stroke-width="1"/>
<rect x="350.8" y="351.9" width="15.6" height="3.6" fill="#88a8ee" stroke="#5a82e0" stroke-width="1"/>
<rect x="371.7" y="354.9" width="15.6" height="0.6" fill="#88a8ee" stroke="#5a82e0" stroke-width="1"/>
<rect x="392.6" y="344.1" width="15.6" height="11.4" fill="#88a8ee" stroke="#5a82e0" stroke-width="1"/>
<polyline points="65.95,355.5 86.85,355.1 107.76,354.7 128.66,324.1 149.56,302.1 170.47,302.1 191.37,292.5 212.27,292.1 233.18,292.1 254.08,292.1 274.98,292.1 295.89,291.9 316.79,289.7 337.69,289.3 358.6,288.1 379.5,287.9 400.4,284.1 421.31,284.1" fill="none" stroke="#999" stroke-width="1.2"/>
<text x="65.95" y="352.7" font-size="9.3" fill="#6d8fe6" text-anchor="middle">0</text>
<text x="86.85" y="351.5" font-size="9.3" fill="#6d8fe6" text-anchor="middle">0.2</text>
<text x="107.76" y="351.5" font-size="9.3" fill="#6d8fe6" text-anchor="middle">0.2</text>
<text x="128.66" y="260.9" font-size="9.3" fill="#6d8fe6" text-anchor="middle">15.3</text>
<text x="149.56" y="286.7" font-size="9.3" fill="#6d8fe6" text-anchor="middle">11.0</text>
<text x="170.47" y="352.7" font-size="9.3" fill="#6d8fe6" text-anchor="middle">0</text>
<text x="191.37" y="323.9" font-size="9.3" fill="#6d8fe6" text-anchor="middle">4.8</text>
<text x="212.27" y="351.5" font-size="9.3" fill="#6d8fe6" text-anchor="middle">0.2</text>
<text x="233.18" y="352.7" font-size="9.3" fill="#6d8fe6" text-anchor="middle">0</text>
<text x="254.08" y="352.7" font-size="9.3" fill="#6d8fe6" text-anchor="middle">0</text>
<text x="274.98" y="352.7" font-size="9.3" fill="#6d8fe6" text-anchor="middle">0</text>
<text x="295.89" y="352.1" font-size="9.3" fill="#6d8fe6" text-anchor="middle">0.1</text>
<text x="316.79" y="346.1" font-size="9.3" fill="#6d8fe6" text-anchor="middle">1.1</text>
<text x="337.69" y="351.5" font-size="9.3" fill="#6d8fe6" text-anchor="middle">0.2</text>
<text x="358.6" y="349.1" font-size="9.3" fill="#6d8fe6" text-anchor="middle">0.6</text>
<text x="379.5" y="352.1" font-size="9.3" fill="#6d8fe6" text-anchor="middle">0.1</text>
<text x="400.4" y="341.3" font-size="9.3" fill="#6d8fe6" text-anchor="middle">1.9</text>
<text x="421.31" y="352.7" font-size="9.3" fill="#6d8fe6" text-anchor="middle">0</text>
<rect x="55.5" y="235.5" width="648" height="120" fill="none" stroke="#000" stroke-width="1"/>
<text x="63.1" y="248.8" font-size="11" fill="#555" text-anchor="start">RRs: 35.7 mm</text>
<text x="145.19" y="248.8" font-size="11" fill="#555" text-anchor="start">RRx: 15.3 mm</text>
<text x="227.28" y="248.8" font-size="11" fill="#555" text-anchor="start">nRR≥0.1: 12</text>
<text x="300.77" y="248.8" font-size="11" fill="#555" text-anchor="start">nRR≥1: 5</text>
<text x="358.96" y="248.8" font-size="11" fill="#555" text-anchor="start">nRR≥10: 2</text>
<text x="423.26" y="248.8" font-size="11" fill="#555" text-anchor="start">nRR≥20: 0</text>
<text x="51.5" y="239" font-size="12" fill="#333" text-anchor="end">20</text>
<text x="51.5" y="269" font-size="12" fill="#333" text-anchor="end">15</text>
<text x="51.5" y="299" font-size="12" fill="#333" text-anchor="end">10</text>
<text x="51.5" y="329" font-size="12" fill="#333" text-anchor="end">5</text>
<text x="51.5" y="359" font-size="12" fill="#333" text-anchor="end">0</text>
<text x="35.5" y="359" font-size="11" fill="#aaa" text-anchor="end">0</text>
<text x="35.5" y="329" font-size="11" fill="#aaa" text-anchor="end">15</text>
<text x="35.5" y="299" font-size="11" fill="#aaa" text-anchor="end">30</text>
<text x="35.5" y="269" font-size="11" fill="#aaa" text-anchor="end">45</text>
<text x="35.5" y="239" font-size="11" fill="#aaa" text-anchor="end">60</text>
<text x="0" y="0" font-size="12" fill="#333" text-anchor="middle" transform="translate(19.8,295.5) rotate(-90)">mm</text>
<text x="0" y="0" font-size="12" fill="#333" text-anchor="middle" transform="translate(720,295.5) rotate(-90)">Niederschlag</text>
<text x="65.25" y="368" font-size="11" fill="#333" text-anchor="middle">1</text>
<text x="86.15" y="368" font-size="11" fill="#333" text-anchor="middle">2</text>
<text x="107.06" y="368" font-size="11" fill="#333" text-anchor="middle">3</text>
<text x="127.96" y="368" font-size="11" fill="#333" text-anchor="middle">4</text>
<text x="148.86" y="368" font-size="11" fill="#333" text-anchor="middle">5</text>
<text x="169.77" y="368" font-size="11" fill="#333" text-anchor="middle">6</text>
<text x="190.67" y="368" font-size="11" fill="#333" text-anchor="middle">7</text>
<text x="211.57" y="368" font-size="11" fill="#333" text-anchor="middle">8</text>
<text x="232.48" y="368" font-size="11" fill="#333" text-anchor="middle">9</text>
<text x="253.38" y="368" font-size="11" fill="#333" text-anchor="middle">10</text>
<text x="274.28" y="368" font-size="11" fill="#333" text-anchor="middle">11</text>
<text x="295.19" y="368" font-size="11" fill="#333" text-anchor="middle">12</text>
<text x="316.09" y="368" font-size="11" fill="#333" text-anchor="middle">13</text>
<text x="336.99" y="368" font-size="11" fill="#333" text-anchor="middle">14</text>
<text x="357.9" y="368" font-size="11" fill="#333" text-anchor="middle">15</text>
<text x="378.8" y="368" font-size="11" fill="#333" text-anchor="middle">16</text>
<text x="399.7" y="368" font-size="11" fill="#333" text-anchor="middle">17</text>
<text x="420.61" y="368" font-size="11" fill="#333" text-anchor="middle">18</text>
<text x="441.51" y="368" font-size="11" fill="#333" text-anchor="middle">19</text>
<text x="462.41" y="368" font-size="11" fill="#333" text-anchor="middle">20</text>
<text x="483.32" y="368" font-size="11" fill="#333" text-anchor="middle">21</text>
<text x="504.22" y="368" font-size="11" fill="#333" text-anchor="middle">22</text>
<text x="525.12" y="368" font-size="11" fill="#333" text-anchor="middle">23</text>
<text x="546.03" y="368" font-size="11" fill="#333" text-anchor="middle">24</text>
<text x="566.93" y="368" font-size="11" fill="#333" text-anchor="middle">25</text>
<text x="587.83" y="368" font-size="11" fill="#333" text-anchor="middle">26</text>
<text x="608.74" y="368" font-size="11" fill="#333" text-anchor="middle">27</text>
<text x="629.64" y="368" font-size="11" fill="#333" text-anchor="middle">28</text>
<text x="650.54" y="368" font-size="11" fill="#333" text-anchor="middle">29</text>
<text x="671.45" y="368" font-size="11" fill="#333" text-anchor="middle">30</text>
<text x="692.35" y="368" font-size="11" fill="#333" text-anchor="middle">31</text>
<line x1="76.4" y1="377.5" x2="76.4" y2="494.5" stroke="#ebebeb" stroke-width="1.8"/>
<line x1="97.31" y1="377.5" x2="97.31" y2="494.5" stroke="#ebebeb" stroke-width="1.8"/>
<line x1="118.21" y1="377.5" x2="118.21" y2="494.5" stroke="#ebebeb" stroke-width="1.8"/>
<line x1="139.11" y1="377.5" x2="139.11" y2="494.5" stroke="#ebebeb" stroke-width="1.8"/>
<line x1="160.02" y1="377.5" x2="160.02" y2="494.5" stroke="#ebebeb" stroke-width="1.8"/>
<line x1="180.92" y1="377.5" x2="180.92" y2="494.5" stroke="#ebebeb" stroke-width="1.8"/>
<line x1="201.82" y1="377.5" x2="201.82" y2="494.5" stroke="#ebebeb" stroke-width="1.8"/>
<line x1="222.73" y1="377.5" x2="222.73" y2="494.5" stroke="#ebebeb" stroke-width="1.8"/>
<line x1="243.63" y1="377.5" x2="243.63" y2="494.5" stroke="#ebebeb" stroke-width="1.8"/>
<line x1="264.53" y1="377.5" x2="264.53" y2="494.5" stroke="#ebebeb" stroke-width="1.8"/>
<line x1="285.44" y1="377.5" x2="285.44" y2="494.5" stroke="#ebebeb" stroke-width="1.8"/>
<line x1="306.34" y1="377.5" x2="306.34" y2="494.5" stroke="#ebebeb" stroke-width="1.8"/>
<line x1="327.24" y1="377.5" x2="327.24" y2="494.5" stroke="#ebebeb" stroke-width="1.8"/>
<line x1="348.15" y1="377.5" x2="348.15" y2="494.5" stroke="#ebebeb" stroke-width="1.8"/>
<line x1="369.05" y1="377.5" x2="369.05" y2="494.5" stroke="#ebebeb" stroke-width="1.8"/>
<line x1="389.95" y1="377.5" x2="389.95" y2="494.5" stroke="#ebebeb" stroke-width="1.8"/>
<line x1="410.85" y1="377.5" x2="410.85" y2="494.5" stroke="#ebebeb" stroke-width="1.8"/>
<line x1="452.66" y1="377.5" x2="452.66" y2="494.5" stroke="#ebebeb" stroke-width="1.8"/>
<line x1="473.56" y1="377.5" x2="473.56" y2="494.5" stroke="#ebebeb" stroke-width="1.8"/>
<line x1="494.47" y1="377.5" x2="494.47" y2="494.5" stroke="#ebebeb" stroke-width="1.8"/>
<line x1="515.37" y1="377.5" x2="515.37" y2="494.5" stroke="#ebebeb" stroke-width="1.8"/>
<line x1="536.27" y1="377.5" x2="536.27" y2="494.5" stroke="#ebebeb" stroke-width="1.8"/>
<line x1="557.18" y1="377.5" x2="557.18" y2="494.5" stroke="#ebebeb" stroke-width="1.8"/>
<line x1="578.08" y1="377.5" x2="578.08" y2="494.5" stroke="#ebebeb" stroke-width="1.8"/>
<line x1="598.98" y1="377.5" x2="598.98" y2="494.5" stroke="#ebebeb" stroke-width="1.8"/>
<line x1="619.89" y1="377.5" x2="619.89" y2="494.5" stroke="#ebebeb" stroke-width="1.8"/>
<line x1="640.79" y1="377.5" x2="640.79" y2="494.5" stroke="#ebebeb" stroke-width="1.8"/>
<line x1="661.69" y1="377.5" x2="661.69" y2="494.5" stroke="#ebebeb" stroke-width="1.8"/>
<line x1="682.6" y1="377.5" x2="682.6" y2="494.5" stroke="#ebebeb" stroke-width="1.8"/>
<line x1="431.76" y1="376.5" x2="431.76" y2="494.5" stroke="#f2c8cc" stroke-width="1.5"/>
<line x1="57" y1="487.5" x2="702.5" y2="487.5" stroke="#fff" stroke-width="2.2" stroke-opacity="0.6"/>
<line x1="57" y1="487.5" x2="702.5" y2="487.5" stroke="#f1f1f1" stroke-width="1"/>
<line x1="57" y1="479.5" x2="702.5" y2="479.5" stroke="#fff" stroke-width="2.2" stroke-opacity="0.6"/>
<line x1="57" y1="479.5" x2="702.5" y2="479.5" stroke="#f1f1f1" stroke-width="1"/>
<line x1="57" y1="471.5" x2="702.5" y2="471.5" stroke="#fff" stroke-width="2.2" stroke-opacity="0.6"/>
<line x1="57" y1="471.5" x2="702.5" y2="471.5" stroke="#f1f1f1" stroke-width="1"/>
<line x1="57" y1="463.5" x2="702.5" y2="463.5" stroke="#fff" stroke-width="2.2" stroke-opacity="0.6"/>
<line x1="57" y1="463.5" x2="702.5" y2="463.5" stroke="#f1f1f1" stroke-width="1"/>
<line x1="57" y1="455.5" x2="702.5" y2="455.5" stroke="#fff" stroke-width="2.2" stroke-opacity="0.6"/>
<line x1="57" y1="455.5" x2="702.5" y2="455.5" stroke="#dcdcdc" stroke-width="1"/>
<line x1="57" y1="447.5" x2="702.5" y2="447.5" stroke="#fff" stroke-width="2.2" stroke-opacity="0.6"/>
<line x1="57" y1="447.5" x2="702.5" y2="447.5" stroke="#f1f1f1" stroke-width="1"/>
<line x1="57" y1="439.5" x2="702.5" y2="439.5" stroke="#fff" stroke-width="2.2" stroke-opacity="0.6"/>
<line x1="57" y1="439.5" x2="702.5" y2="439.5" stroke="#f1f1f1" stroke-width="1"/>
<line x1="57" y1="431.5" x2="702.5" y2="431.5" stroke="#fff" stroke-width="2.2" stroke-opacity="0.6"/>
<line x1="57" y1="431.5" x2="702.5" y2="431.5" stroke="#f1f1f1" stroke-width="1"/>
<line x1="57" y1="423.5" x2="702.5" y2="423.5" stroke="#fff" stroke-width="2.2" stroke-opacity="0.6"/>
<line x1="57" y1="423.5" x2="702.5" y2="423.5" stroke="#f1f1f1" stroke-width="1"/>
<line x1="57" y1="415.5" x2="702.5" y2="415.5" stroke="#fff" stroke-width="2.2" stroke-opacity="0.6"/>
<line x1="57" y1="415.5" x2="702.5" y2="415.5" stroke="#dcdcdc" stroke-width="1"/>
<line x1="57" y1="407.5" x2="702.5" y2="407.5" stroke="#fff" stroke-width="2.2" stroke-opacity="0.6"/>
<line x1="57" y1="407.5" x2="702.5" y2="407.5" stroke="#f1f1f1" stroke-width="1"/>
<line x1="57" y1="399.5" x2="702.5" y2="399.5" stroke="#fff" stroke-width="2.2" stroke-opacity="0.6"/>
<line x1="57" y1="399.5" x2="702.5" y2="399.5" stroke="#f1f1f1" stroke-width="1"/>
<line x1="57" y1="391.5" x2="702.5" y2="391.5" stroke="#fff" stroke-width="2.2" stroke-opacity="0.6"/>
<line x1="57" y1="391.5" x2="702.5" y2="391.5" stroke="#f1f1f1" stroke-width="1"/>
<line x1="57" y1="383.5" x2="702.5" y2="383.5" stroke="#fff" stroke-width="2.2" stroke-opacity="0.6"/>
<line x1="57" y1="383.5" x2="702.5" y2="383.5" stroke="#f1f1f1" stroke-width="1"/>
<text x="65.95" y="492.7" font-size="9.3" fill="#aaa" text-anchor="middle">0</text>
<text x="86.85" y="492.7" font-size="9.3" fill="#aaa" text-anchor="middle">0</text>
<text x="107.76" y="492.7" font-size="9.3" fill="#aaa" text-anchor="middle">0</text>
<text x="128.66" y="492.7" font-size="9.3" fill="#aaa" text-anchor="middle">0</text>
<text x="149.56" y="492.7" font-size="9.3" fill="#aaa" text-anchor="middle">0</text>
<text x="170.47" y="492.7" font-size="9.3" fill="#aaa" text-anchor="middle">0</text>
<text x="191.37" y="492.7" font-size="9.3" fill="#aaa" text-anchor="middle">0</text>
<text x="212.27" y="492.7" font-size="9.3" fill="#aaa" text-anchor="middle">0</text>
<text x="233.18" y="492.7" font-size="9.3" fill="#aaa" text-anchor="middle">0</text>
<text x="254.08" y="492.7" font-size="9.3" fill="#aaa" text-anchor="middle">0</text>
<text x="274.98" y="492.7" font-size="9.3" fill="#aaa" text-anchor="middle">0</text>
<text x="295.89" y="492.7" font-size="9.3" fill="#aaa" text-anchor="middle">0</text>
<text x="316.79" y="492.7" font-size="9.3" fill="#aaa" text-anchor="middle">0</text>
<text x="337.69" y="492.7" font-size="9.3" fill="#aaa" text-anchor="middle">0</text>
<text x="358.6" y="492.7" font-size="9.3" fill="#aaa" text-anchor="middle">0</text>
<text x="379.5" y="492.7" font-size="9.3" fill="#aaa" text-anchor="middle">0</text>
<text x="400.4" y="492.7" font-size="9.3" fill="#aaa" text-anchor="middle">0</text>
<circle cx="421.31" cy="493" r="1.6" fill="#e53935"/>
<rect x="55.5" y="375.5" width="648" height="120" fill="none" stroke="#000" stroke-width="1"/>
<text x="63.1" y="389.6" font-size="11" fill="#555" text-anchor="start">SHx: 0 cm</text>
<text x="125.63" y="389.6" font-size="11" fill="#555" text-anchor="start">nSH≥1: 0</text>
<text x="51.5" y="379" font-size="12" fill="#333" text-anchor="end">15</text>
<text x="51.5" y="419" font-size="12" fill="#333" text-anchor="end">10</text>
<text x="51.5" y="459" font-size="12" fill="#333" text-anchor="end">5</text>
<text x="51.5" y="499" font-size="12" fill="#333" text-anchor="end">0</text>
<text x="0" y="0" font-size="12" fill="#333" text-anchor="middle" transform="translate(27,435.5) rotate(-90)">cm</text>
<text x="0" y="0" font-size="12" fill="#333" text-anchor="middle" transform="translate(720,435.5) rotate(-90)">Schneehöhe</text>
<text x="65.25" y="508" font-size="11" fill="#333" text-anchor="middle">1</text>
<text x="86.15" y="508" font-size="11" fill="#333" text-anchor="middle">2</text>
<text x="107.06" y="508" font-size="11" fill="#333" text-anchor="middle">3</text>
<text x="127.96" y="508" font-size="11" fill="#333" text-anchor="middle">4</text>
<text x="148.86" y="508" font-size="11" fill="#333" text-anchor="middle">5</text>
<text x="169.77" y="508" font-size="11" fill="#333" text-anchor="middle">6</text>
<text x="190.67" y="508" font-size="11" fill="#333" text-anchor="middle">7</text>
<text x="211.57" y="508" font-size="11" fill="#333" text-anchor="middle">8</text>
<text x="232.48" y="508" font-size="11" fill="#333" text-anchor="middle">9</text>
<text x="253.38" y="508" font-size="11" fill="#333" text-anchor="middle">10</text>
<text x="274.28" y="508" font-size="11" fill="#333" text-anchor="middle">11</text>
<text x="295.19" y="508" font-size="11" fill="#333" text-anchor="middle">12</text>
<text x="316.09" y="508" font-size="11" fill="#333" text-anchor="middle">13</text>
<text x="336.99" y="508" font-size="11" fill="#333" text-anchor="middle">14</text>
<text x="357.9" y="508" font-size="11" fill="#333" text-anchor="middle">15</text>
<text x="378.8" y="508" font-size="11" fill="#333" text-anchor="middle">16</text>
<text x="399.7" y="508" font-size="11" fill="#333" text-anchor="middle">17</text>
<text x="420.61" y="508" font-size="11" fill="#333" text-anchor="middle">18</text>
<text x="441.51" y="508" font-size="11" fill="#333" text-anchor="middle">19</text>
<text x="462.41" y="508" font-size="11" fill="#333" text-anchor="middle">20</text>
<text x="483.32" y="508" font-size="11" fill="#333" text-anchor="middle">21</text>
<text x="504.22" y="508" font-size="11" fill="#333" text-anchor="middle">22</text>
<text x="525.12" y="508" font-size="11" fill="#333" text-anchor="middle">23</text>
<text x="546.03" y="508" font-size="11" fill="#333" text-anchor="middle">24</text>
<text x="566.93" y="508" font-size="11" fill="#333" text-anchor="middle">25</text>
<text x="587.83" y="508" font-size="11" fill="#333" text-anchor="middle">26</text>
<text x="608.74" y="508" font-size="11" fill="#333" text-anchor="middle">27</text>
<text x="629.64" y="508" font-size="11" fill="#333" text-anchor="middle">28</text>
<text x="650.54" y="508" font-size="11" fill="#333" text-anchor="middle">29</text>
<text x="671.45" y="508" font-size="11" fill="#333" text-anchor="middle">30</text>
<text x="692.35" y="508" font-size="11" fill="#333" text-anchor="middle">31</text>
<line x1="76.4" y1="517.5" x2="76.4" y2="624.5" stroke="#ebebeb" stroke-width="1.8"/>
<line x1="97.31" y1="517.5" x2="97.31" y2="624.5" stroke="#ebebeb" stroke-width="1.8"/>
<line x1="118.21" y1="517.5" x2="118.21" y2="624.5" stroke="#ebebeb" stroke-width="1.8"/>
<line x1="139.11" y1="517.5" x2="139.11" y2="624.5" stroke="#ebebeb" stroke-width="1.8"/>
<line x1="160.02" y1="517.5" x2="160.02" y2="624.5" stroke="#ebebeb" stroke-width="1.8"/>
<line x1="180.92" y1="517.5" x2="180.92" y2="624.5" stroke="#ebebeb" stroke-width="1.8"/>
<line x1="201.82" y1="517.5" x2="201.82" y2="624.5" stroke="#ebebeb" stroke-width="1.8"/>
<line x1="222.73" y1="517.5" x2="222.73" y2="624.5" stroke="#ebebeb" stroke-width="1.8"/>
<line x1="243.63" y1="517.5" x2="243.63" y2="624.5" stroke="#ebebeb" stroke-width="1.8"/>
<line x1="264.53" y1="517.5" x2="264.53" y2="624.5" stroke="#ebebeb" stroke-width="1.8"/>
<line x1="285.44" y1="517.5" x2="285.44" y2="624.5" stroke="#ebebeb" stroke-width="1.8"/>
<line x1="306.34" y1="517.5" x2="306.34" y2="624.5" stroke="#ebebeb" stroke-width="1.8"/>
<line x1="327.24" y1="517.5" x2="327.24" y2="624.5" stroke="#ebebeb" stroke-width="1.8"/>
<line x1="348.15" y1="517.5" x2="348.15" y2="624.5" stroke="#ebebeb" stroke-width="1.8"/>
<line x1="369.05" y1="517.5" x2="369.05" y2="624.5" stroke="#ebebeb" stroke-width="1.8"/>
<line x1="389.95" y1="517.5" x2="389.95" y2="624.5" stroke="#ebebeb" stroke-width="1.8"/>
<line x1="410.85" y1="517.5" x2="410.85" y2="624.5" stroke="#ebebeb" stroke-width="1.8"/>
<line x1="452.66" y1="517.5" x2="452.66" y2="624.5" stroke="#ebebeb" stroke-width="1.8"/>
<line x1="473.56" y1="517.5" x2="473.56" y2="624.5" stroke="#ebebeb" stroke-width="1.8"/>
<line x1="494.47" y1="517.5" x2="494.47" y2="624.5" stroke="#ebebeb" stroke-width="1.8"/>
<line x1="515.37" y1="517.5" x2="515.37" y2="624.5" stroke="#ebebeb" stroke-width="1.8"/>
<line x1="536.27" y1="517.5" x2="536.27" y2="624.5" stroke="#ebebeb" stroke-width="1.8"/>
<line x1="557.18" y1="517.5" x2="557.18" y2="624.5" stroke="#ebebeb" stroke-width="1.8"/>
<line x1="578.08" y1="517.5" x2="578.08" y2="624.5" stroke="#ebebeb" stroke-width="1.8"/>
<line x1="598.98" y1="517.5" x2="598.98" y2="624.5" stroke="#ebebeb" stroke-width="1.8"/>
<line x1="619.89" y1="517.5" x2="619.89" y2="624.5" stroke="#ebebeb" stroke-width="1.8"/>
<line x1="640.79" y1="517.5" x2="640.79" y2="624.5" stroke="#ebebeb" stroke-width="1.8"/>
<line x1="661.69" y1="517.5" x2="661.69" y2="624.5" stroke="#ebebeb" stroke-width="1.8"/>
<line x1="682.6" y1="517.5" x2="682.6" y2="624.5" stroke="#ebebeb" stroke-width="1.8"/>
<line x1="431.76" y1="516.5" x2="431.76" y2="624.5" stroke="#f2c8cc" stroke-width="1.5"/>
<line x1="57" y1="620.7" x2="702.5" y2="620.7" stroke="#fff" stroke-width="2.2" stroke-opacity="0.6"/>
<line x1="57" y1="620.7" x2="702.5" y2="620.7" stroke="#f1f1f1" stroke-width="1"/>
<line x1="57" y1="615.4" x2="702.5" y2="615.4" stroke="#fff" stroke-width="2.2" stroke-opacity="0.6"/>
<line x1="57" y1="615.4" x2="702.5" y2="615.4" stroke="#f1f1f1" stroke-width="1"/>
<line x1="57" y1="610.1" x2="702.5" y2="610.1" stroke="#fff" stroke-width="2.2" stroke-opacity="0.6"/>
<line x1="57" y1="610.1" x2="702.5" y2="610.1" stroke="#dcdcdc" stroke-width="1"/>
<line x1="57" y1="604.8" x2="702.5" y2="604.8" stroke="#fff" stroke-width="2.2" stroke-opacity="0.6"/>
<line x1="57" y1="604.8" x2="702.5" y2="604.8" stroke="#f1f1f1" stroke-width="1"/>
<line x1="57" y1="599.5" x2="702.5" y2="599.5" stroke="#fff" stroke-width="2.2" stroke-opacity="0.6"/>
<line x1="57" y1="599.5" x2="702.5" y2="599.5" stroke="#f1f1f1" stroke-width="1"/>
<line x1="57" y1="594.2" x2="702.5" y2="594.2" stroke="#fff" stroke-width="2.2" stroke-opacity="0.6"/>
<line x1="57" y1="594.2" x2="702.5" y2="594.2" stroke="#dcdcdc" stroke-width="1"/>
<line x1="57" y1="588.9" x2="702.5" y2="588.9" stroke="#fff" stroke-width="2.2" stroke-opacity="0.6"/>
<line x1="57" y1="588.9" x2="702.5" y2="588.9" stroke="#f1f1f1" stroke-width="1"/>
<line x1="57" y1="583.6" x2="702.5" y2="583.6" stroke="#fff" stroke-width="2.2" stroke-opacity="0.6"/>
<line x1="57" y1="583.6" x2="702.5" y2="583.6" stroke="#f1f1f1" stroke-width="1"/>
<line x1="57" y1="578.3" x2="702.5" y2="578.3" stroke="#fff" stroke-width="2.2" stroke-opacity="0.6"/>
<line x1="57" y1="578.3" x2="702.5" y2="578.3" stroke="#dcdcdc" stroke-width="1"/>
<line x1="57" y1="573" x2="702.5" y2="573" stroke="#fff" stroke-width="2.2" stroke-opacity="0.6"/>
<line x1="57" y1="573" x2="702.5" y2="573" stroke="#f1f1f1" stroke-width="1"/>
<line x1="57" y1="567.7" x2="702.5" y2="567.7" stroke="#fff" stroke-width="2.2" stroke-opacity="0.6"/>
<line x1="57" y1="567.7" x2="702.5" y2="567.7" stroke="#f1f1f1" stroke-width="1"/>
<line x1="57" y1="562.4" x2="702.5" y2="562.4" stroke="#fff" stroke-width="2.2" stroke-opacity="0.6"/>
<line x1="57" y1="562.4" x2="702.5" y2="562.4" stroke="#dcdcdc" stroke-width="1"/>
<line x1="57" y1="557.1" x2="702.5" y2="557.1" stroke="#fff" stroke-width="2.2" stroke-opacity="0.6"/>
<line x1="57" y1="557.1" x2="702.5" y2="557.1" stroke="#f1f1f1" stroke-width="1"/>
<line x1="57" y1="551.8" x2="702.5" y2="551.8" stroke="#fff" stroke-width="2.2" stroke-opacity="0.6"/>
<line x1="57" y1="551.8" x2="702.5" y2="551.8" stroke="#f1f1f1" stroke-width="1"/>
<line x1="57" y1="546.5" x2="702.5" y2="546.5" stroke="#fff" stroke-width="2.2" stroke-opacity="0.6"/>
<line x1="57" y1="546.5" x2="702.5" y2="546.5" stroke="#dcdcdc" stroke-width="1"/>
<line x1="57" y1="541.2" x2="702.5" y2="541.2" stroke="#fff" stroke-width="2.2" stroke-opacity="0.6"/>
<line x1="57" y1="541.2" x2="702.5" y2="541.2" stroke="#f1f1f1" stroke-width="1"/>
<line x1="57" y1="535.9" x2="702.5" y2="535.9" stroke="#fff" stroke-width="2.2" stroke-opacity="0.6"/>
<line x1="57" y1="535.9" x2="702.5" y2="535.9" stroke="#f1f1f1" stroke-width="1"/>
<line x1="57" y1="530.6" x2="702.5" y2="530.6" stroke="#fff" stroke-width="2.2" stroke-opacity="0.6"/>
<line x1="57" y1="530.6" x2="702.5" y2="530.6" stroke="#dcdcdc" stroke-width="1"/>
<line x1="57" y1="525.3" x2="702.5" y2="525.3" stroke="#fff" stroke-width="2.2" stroke-opacity="0.6"/>
<line x1="57" y1="525.3" x2="702.5" y2="525.3" stroke="#f1f1f1" stroke-width="1"/>
<line x1="57" y1="520" x2="702.5" y2="520" stroke="#fff" stroke-width="2.2" stroke-opacity="0.6"/>
<line x1="57" y1="520" x2="702.5" y2="520" stroke="#f1f1f1" stroke-width="1"/>
<rect x="58.15" y="564.41" width="15.6" height="61.09" fill="#ffefae" stroke="#fde6a8" stroke-width="1" fill-opacity="0.6"/>
<rect x="79.05" y="564.79" width="15.6" height="60.71" fill="#ffefae" stroke="#fde6a8" stroke-width="1" fill-opacity="0.6"/>
<rect x="99.96" y="565.17" width="15.6" height="60.33" fill="#ffefae" stroke="#fde6a8" stroke-width="1" fill-opacity="0.6"/>
<rect x="120.86" y="565.54" width="15.6" height="59.96" fill="#ffefae" stroke="#fde6a8" stroke-width="1" fill-opacity="0.6"/>
<rect x="141.76" y="565.92" width="15.6" height="59.58" fill="#ffefae" stroke="#fde6a8" stroke-width="1" fill-opacity="0.6"/>
<rect x="162.67" y="566.3" width="15.6" height="59.2" fill="#ffefae" stroke="#fde6a8" stroke-width="1" fill-opacity="0.6"/>
<rect x="183.57" y="566.67" width="15.6" height="58.83" fill="#ffefae" stroke="#fde6a8" stroke-width="1" fill-opacity="0.6"/>
<rect x="204.47" y="567.05" width="15.6" height="58.45" fill="#ffefae" stroke="#fde6a8" stroke-width="1" fill-opacity="0.6"/>
<rect x="225.38" y="567.42" width="15.6" height="58.08" fill="#ffefae" stroke="#fde6a8" stroke-width="1" fill-opacity="0.6"/>
<rect x="246.28" y="567.8" width="15.6" height="57.7" fill="#ffefae" stroke="#fde6a8" stroke-width="1" fill-opacity="0.6"/>
<rect x="267.18" y="568.18" width="15.6" height="57.32" fill="#ffefae" stroke="#fde6a8" stroke-width="1" fill-opacity="0.6"/>
<rect x="288.09" y="568.55" width="15.6" height="56.95" fill="#ffefae" stroke="#fde6a8" stroke-width="1" fill-opacity="0.6"/>
<rect x="308.99" y="568.93" width="15.6" height="56.57" fill="#ffefae" stroke="#fde6a8" stroke-width="1" fill-opacity="0.6"/>
<rect x="329.89" y="569.31" width="15.6" height="56.19" fill="#ffefae" stroke="#fde6a8" stroke-width="1" fill-opacity="0.6"/>
<rect x="350.8" y="569.68" width="15.6" height="55.82" fill="#ffefae" stroke="#fde6a8" stroke-width="1" fill-opacity="0.6"/>
<rect x="371.7" y="570.06" width="15.6" height="55.44" fill="#ffefae" stroke="#fde6a8" stroke-width="1" fill-opacity="0.6"/>
<rect x="392.6" y="570.43" width="15.6" height="55.07" fill="#ffefae" stroke="#fde6a8" stroke-width="1" fill-opacity="0.6"/>
<rect x="413.51" y="570.81" width="15.6" height="54.69" fill="#ffefae" stroke="#fde6a8" stroke-width="1" fill-opacity="0.6"/>
<rect x="434.41" y="571.19" width="15.6" height="54.31" fill="#ffefae" stroke="#fde6a8" stroke-width="1" fill-opacity="0.6"/>
<rect x="455.31" y="571.56" width="15.6" height="53.94" fill="#ffefae" stroke="#fde6a8" stroke-width="1" fill-opacity="0.6"/>
<rect x="476.22" y="571.94" width="15.6" height="53.56" fill="#ffefae" stroke="#fde6a8" stroke-width="1" fill-opacity="0.6"/>
<rect x="497.12" y="572.32" width="15.6" height="53.18" fill="#ffefae" stroke="#fde6a8" stroke-width="1" fill-opacity="0.6"/>
<rect x="518.02" y="572.69" width="15.6" height="52.81" fill="#ffefae" stroke="#fde6a8" stroke-width="1" fill-opacity="0.6"/>
<rect x="538.93" y="573.07" width="15.6" height="52.43" fill="#ffefae" stroke="#fde6a8" stroke-width="1" fill-opacity="0.6"/>
<rect x="559.83" y="573.45" width="15.6" height="52.05" fill="#ffefae" stroke="#fde6a8" stroke-width="1" fill-opacity="0.6"/>
<rect x="580.73" y="573.82" width="15.6" height="51.68" fill="#ffefae" stroke="#fde6a8" stroke-width="1" fill-opacity="0.6"/>
<rect x="601.64" y="574.2" width="15.6" height="51.3" fill="#ffefae" stroke="#fde6a8" stroke-width="1" fill-opacity="0.6"/>
<rect x="622.54" y="574.57" width="15.6" height="50.93" fill="#ffefae" stroke="#fde6a8" stroke-width="1" fill-opacity="0.6"/>
<rect x="643.44" y="574.95" width="15.6" height="50.55" fill="#ffefae" stroke="#fde6a8" stroke-width="1" fill-opacity="0.6"/>
<rect x="664.35" y="575.33" width="15.6" height="50.17" fill="#ffefae" stroke="#fde6a8" stroke-width="1" fill-opacity="0.6"/>
<rect x="685.25" y="575.7" width="15.6" height="49.8" fill="#ffefae" stroke="#fde6a8" stroke-width="1" fill-opacity="0.6"/>
<rect x="58.15" y="579.36" width="15.6" height="46.14" fill="#ffdc38" stroke="#f8c72c" stroke-width="1"/>
<rect x="79.05" y="585.19" width="15.6" height="40.31" fill="#ffdc38" stroke="#f8c72c" stroke-width="1"/>
<rect x="99.96" y="589.43" width="15.6" height="36.07" fill="#ffdc38" stroke="#f8c72c" stroke-width="1"/>
<rect x="141.76" y="610.1" width="15.6" height="15.4" fill="#ffdc38" stroke="#f8c72c" stroke-width="1"/>
<rect x="162.67" y="623.88" width="15.6" height="1.62" fill="#ffdc38" stroke="#f8c72c" stroke-width="1"/>
<rect x="183.57" y="624.94" width="15.6" height="0.56" fill="#ffdc38" stroke="#f8c72c" stroke-width="1"/>
<rect x="204.47" y="625.79" width="15.6" height="-0.29" fill="#ffdc38" stroke="#f8c72c" stroke-width="1"/>
<rect x="225.38" y="586.78" width="15.6" height="38.72" fill="#ffdc38" stroke="#f8c72c" stroke-width="1"/>
<rect x="246.28" y="612.75" width="15.6" height="12.75" fill="#ffdc38" stroke="#f8c72c" stroke-width="1"/>
<rect x="288.09" y="600.56" width="15.6" height="24.94" fill="#ffdc38" stroke="#f8c72c" stroke-width="1"/>
<rect x="308.99" y="574.59" width="15.6" height="50.91" fill="#ffdc38" stroke="#f8c72c" stroke-width="1"/>
<rect x="329.89" y="597.38" width="15.6" height="28.12" fill="#ffdc38" stroke="#f8c72c" stroke-width="1"/>
<rect x="350.8" y="593.14" width="15.6" height="32.36" fill="#ffdc38" stroke="#f8c72c" stroke-width="1"/>
<rect x="371.7" y="596.32" width="15.6" height="29.18" fill="#ffdc38" stroke="#f8c72c" stroke-width="1"/>
<rect x="392.6" y="613.28" width="15.6" height="12.22" fill="#ffdc38" stroke="#f8c72c" stroke-width="1"/>
<rect x="413.51" y="575.12" width="15.6" height="50.38" fill="#ffdc38" stroke="#f8c72c" stroke-width="1"/>
<text x="65.95" y="576.56" font-size="9.3" fill="#b89a3a" text-anchor="middle">8.8</text>
<text x="86.85" y="582.39" font-size="9.3" fill="#b89a3a" text-anchor="middle">7.7</text>
<text x="107.76" y="586.63" font-size="9.3" fill="#b89a3a" text-anchor="middle">6.9</text>
<text x="128.66" y="623.2" font-size="9.3" fill="#b89a3a" text-anchor="middle">0</text>
<text x="149.56" y="607.3" font-size="9.3" fill="#b89a3a" text-anchor="middle">3.0</text>
<text x="170.47" y="621.08" font-size="9.3" fill="#b89a3a" text-anchor="middle">0.4</text>
<text x="191.37" y="622.14" font-size="9.3" fill="#b89a3a" text-anchor="middle">0.2</text>
<text x="212.27" y="622.99" font-size="9.3" fill="#b89a3a" text-anchor="middle">&lt;0.1</text>
<text x="233.18" y="583.98" font-size="9.3" fill="#b89a3a" text-anchor="middle">7.4</text>
<text x="254.08" y="609.95" font-size="9.3" fill="#b89a3a" text-anchor="middle">2.5</text>
<text x="274.98" y="623.2" font-size="9.3" fill="#b89a3a" text-anchor="middle">0</text>
<text x="295.89" y="597.76" font-size="9.3" fill="#b89a3a" text-anchor="middle">4.8</text>
<text x="316.79" y="571.79" font-size="9.3" fill="#b89a3a" text-anchor="middle">9.7</text>
<text x="337.69" y="594.58" font-size="9.3" fill="#b89a3a" text-anchor="middle">5.4</text>
<text x="358.6" y="590.34" font-size="9.3" fill="#b89a3a" text-anchor="middle">6.2</text>
<text x="379.5" y="593.52" font-size="9.3" fill="#b89a3a" text-anchor="middle">5.6</text>
<text x="400.4" y="610.48" font-size="9.3" fill="#b89a3a" text-anchor="middle">2.4</text>
<text x="421.31" y="572.32" font-size="9.3" fill="#b89a3a" text-anchor="middle">9.6</text>
<rect x="55.5" y="515.5" width="648" height="110" fill="none" stroke="#000" stroke-width="1"/>
<text x="63.1" y="529" font-size="11" fill="#555" text-anchor="start">SDs: 80.7 h</text>
<text x="132.38" y="529" font-size="11" fill="#555" text-anchor="start">SDm: 4.5 h</text>
<text x="199.2" y="529" font-size="11" fill="#555" text-anchor="start">SDx: 9.7 h</text>
<text x="262.36" y="529" font-size="11" fill="#555" text-anchor="start">SDn: 0.0 h</text>
<text x="51.5" y="534.1" font-size="12" fill="#333" text-anchor="end">18</text>
<text x="51.5" y="550" font-size="12" fill="#333" text-anchor="end">15</text>
<text x="51.5" y="565.9" font-size="12" fill="#333" text-anchor="end">12</text>
<text x="51.5" y="581.8" font-size="12" fill="#333" text-anchor="end">9</text>
<text x="51.5" y="597.7" font-size="12" fill="#333" text-anchor="end">6</text>
<text x="51.5" y="613.6" font-size="12" fill="#333" text-anchor="end">3</text>
<text x="51.5" y="629.5" font-size="12" fill="#333" text-anchor="end">0</text>
<text x="0" y="0" font-size="12" fill="#333" text-anchor="middle" transform="translate(27,570.5) rotate(-90)">Stunden</text>
<text x="0" y="0" font-size="12" fill="#333" text-anchor="middle" transform="translate(720,570.5) rotate(-90)">Sonnenscheindauer</text>
<text x="65.25" y="638" font-size="11" fill="#333" text-anchor="middle">1</text>
<text x="86.15" y="638" font-size="11" fill="#333" text-anchor="middle">2</text>
<text x="107.06" y="638" font-size="11" fill="#333" text-anchor="middle">3</text>
<text x="127.96" y="638" font-size="11" fill="#333" text-anchor="middle">4</text>
<text x="148.86" y="638" font-size="11" fill="#333" text-anchor="middle">5</text>
<text x="169.77" y="638" font-size="11" fill="#333" text-anchor="middle">6</text>
<text x="190.67" y="638" font-size="11" fill="#333" text-anchor="middle">7</text>
<text x="211.57" y="638" font-size="11" fill="#333" text-anchor="middle">8</text>
<text x="232.48" y="638" font-size="11" fill="#333" text-anchor="middle">9</text>
<text x="253.38" y="638" font-size="11" fill="#333" text-anchor="middle">10</text>
<text x="274.28" y="638" font-size="11" fill="#333" text-anchor="middle">11</text>
<text x="295.19" y="638" font-size="11" fill="#333" text-anchor="middle">12</text>
<text x="316.09" y="638" font-size="11" fill="#333" text-anchor="middle">13</text>
<text x="336.99" y="638" font-size="11" fill="#333" text-anchor="middle">14</text>
<text x="357.9" y="638" font-size="11" fill="#333" text-anchor="middle">15</text>
<text x="378.8" y="638" font-size="11" fill="#333" text-anchor="middle">16</text>
<text x="399.7" y="638" font-size="11" fill="#333" text-anchor="middle">17</text>
<text x="420.61" y="638" font-size="11" fill="#333" text-anchor="middle">18</text>
<text x="441.51" y="638" font-size="11" fill="#333" text-anchor="middle">19</text>
<text x="462.41" y="638" font-size="11" fill="#333" text-anchor="middle">20</text>
<text x="483.32" y="638" font-size="11" fill="#333" text-anchor="middle">21</text>
<text x="504.22" y="638" font-size="11" fill="#333" text-anchor="middle">22</text>
<text x="525.12" y="638" font-size="11" fill="#333" text-anchor="middle">23</text>
<text x="546.03" y="638" font-size="11" fill="#333" text-anchor="middle">24</text>
<text x="566.93" y="638" font-size="11" fill="#333" text-anchor="middle">25</text>
<text x="587.83" y="638" font-size="11" fill="#333" text-anchor="middle">26</text>
<text x="608.74" y="638" font-size="11" fill="#333" text-anchor="middle">27</text>
<text x="629.64" y="638" font-size="11" fill="#333" text-anchor="middle">28</text>
<text x="650.54" y="638" font-size="11" fill="#333" text-anchor="middle">29</text>
<text x="671.45" y="638" font-size="11" fill="#333" text-anchor="middle">30</text>
<text x="692.35" y="638" font-size="11" fill="#333" text-anchor="middle">31</text>
<line x1="76.4" y1="647.5" x2="76.4" y2="724.5" stroke="#ebebeb" stroke-width="1.8"/>
<line x1="97.31" y1="647.5" x2="97.31" y2="724.5" stroke="#ebebeb" stroke-width="1.8"/>
<line x1="118.21" y1="647.5" x2="118.21" y2="724.5" stroke="#ebebeb" stroke-width="1.8"/>
<line x1="139.11" y1="647.5" x2="139.11" y2="724.5" stroke="#ebebeb" stroke-width="1.8"/>
<line x1="160.02" y1="647.5" x2="160.02" y2="724.5" stroke="#ebebeb" stroke-width="1.8"/>
<line x1="180.92" y1="647.5" x2="180.92" y2="724.5" stroke="#ebebeb" stroke-width="1.8"/>
<line x1="201.82" y1="647.5" x2="201.82" y2="724.5" stroke="#ebebeb" stroke-width="1.8"/>
<line x1="222.73" y1="647.5" x2="222.73" y2="724.5" stroke="#ebebeb" stroke-width="1.8"/>
<line x1="243.63" y1="647.5" x2="243.63" y2="724.5" stroke="#ebebeb" stroke-width="1.8"/>
<line x1="264.53" y1="647.5" x2="264.53" y2="724.5" stroke="#ebebeb" stroke-width="1.8"/>
<line x1="285.44" y1="647.5" x2="285.44" y2="724.5" stroke="#ebebeb" stroke-width="1.8"/>
<line x1="306.34" y1="647.5" x2="306.34" y2="724.5" stroke="#ebebeb" stroke-width="1.8"/>
<line x1="327.24" y1="647.5" x2="327.24" y2="724.5" stroke="#ebebeb" stroke-width="1.8"/>
<line x1="348.15" y1="647.5" x2="348.15" y2="724.5" stroke="#ebebeb" stroke-width="1.8"/>
<line x1="369.05" y1="647.5" x2="369.05" y2="724.5" stroke="#ebebeb" stroke-width="1.8"/>
<line x1="389.95" y1="647.5" x2="389.95" y2="724.5" stroke="#ebebeb" stroke-width="1.8"/>
<line x1="410.85" y1="647.5" x2="410.85" y2="724.5" stroke="#ebebeb" stroke-width="1.8"/>
<line x1="452.66" y1="647.5" x2="452.66" y2="724.5" stroke="#ebebeb" stroke-width="1.8"/>
<line x1="473.56" y1="647.5" x2="473.56" y2="724.5" stroke="#ebebeb" stroke-width="1.8"/>
<line x1="494.47" y1="647.5" x2="494.47" y2="724.5" stroke="#ebebeb" stroke-width="1.8"/>
<line x1="515.37" y1="647.5" x2="515.37" y2="724.5" stroke="#ebebeb" stroke-width="1.8"/>
<line x1="536.27" y1="647.5" x2="536.27" y2="724.5" stroke="#ebebeb" stroke-width="1.8"/>
<line x1="557.18" y1="647.5" x2="557.18" y2="724.5" stroke="#ebebeb" stroke-width="1.8"/>
<line x1="578.08" y1="647.5" x2="578.08" y2="724.5" stroke="#ebebeb" stroke-width="1.8"/>
<line x1="598.98" y1="647.5" x2="598.98" y2="724.5" stroke="#ebebeb" stroke-width="1.8"/>
<line x1="619.89" y1="647.5" x2="619.89" y2="724.5" stroke="#ebebeb" stroke-width="1.8"/>
<line x1="640.79" y1="647.5" x2="640.79" y2="724.5" stroke="#ebebeb" stroke-width="1.8"/>
<line x1="661.69" y1="647.5" x2="661.69" y2="724.5" stroke="#ebebeb" stroke-width="1.8"/>
<line x1="682.6" y1="647.5" x2="682.6" y2="724.5" stroke="#ebebeb" stroke-width="1.8"/>
<line x1="431.76" y1="646.5" x2="431.76" y2="724.5" stroke="#f2c8cc" stroke-width="1.5"/>
<line x1="57" y1="717.33" x2="702.5" y2="717.33" stroke="#fff" stroke-width="2.2" stroke-opacity="0.6"/>
<line x1="57" y1="717.33" x2="702.5" y2="717.33" stroke="#f1f1f1" stroke-width="1"/>
<line x1="57" y1="709.16" x2="702.5" y2="709.16" stroke="#fff" stroke-width="2.2" stroke-opacity="0.6"/>
<line x1="57" y1="709.16" x2="702.5" y2="709.16" stroke="#dcdcdc" stroke-width="1"/>
<line x1="57" y1="700.99" x2="702.5" y2="700.99" stroke="#fff" stroke-width="2.2" stroke-opacity="0.6"/>
<line x1="57" y1="700.99" x2="702.5" y2="700.99" stroke="#f1f1f1" stroke-width="1"/>
<line x1="57" y1="692.82" x2="702.5" y2="692.82" stroke="#fff" stroke-width="2.2" stroke-opacity="0.6"/>
<line x1="57" y1="692.82" x2="702.5" y2="692.82" stroke="#dcdcdc" stroke-width="1"/>
<line x1="57" y1="684.65" x2="702.5" y2="684.65" stroke="#fff" stroke-width="2.2" stroke-opacity="0.6"/>
<line x1="57" y1="684.65" x2="702.5" y2="684.65" stroke="#f1f1f1" stroke-width="1"/>
<line x1="57" y1="676.48" x2="702.5" y2="676.48" stroke="#fff" stroke-width="2.2" stroke-opacity="0.6"/>
<line x1="57" y1="676.48" x2="702.5" y2="676.48" stroke="#dcdcdc" stroke-width="1"/>
<line x1="57" y1="668.31" x2="702.5" y2="668.31" stroke="#fff" stroke-width="2.2" stroke-opacity="0.6"/>
<line x1="57" y1="668.31" x2="702.5" y2="668.31" stroke="#f1f1f1" stroke-width="1"/>
<line x1="57" y1="660.14" x2="702.5" y2="660.14" stroke="#fff" stroke-width="2.2" stroke-opacity="0.6"/>
<line x1="57" y1="660.14" x2="702.5" y2="660.14" stroke="#dcdcdc" stroke-width="1"/>
<line x1="57" y1="651.97" x2="702.5" y2="651.97" stroke="#fff" stroke-width="2.2" stroke-opacity="0.6"/>
<line x1="57" y1="651.97" x2="702.5" y2="651.97" stroke="#f1f1f1" stroke-width="1"/>
<rect x="58.15" y="661" width="15.6" height="64.5" fill="#fff" stroke="#a3a3a3" stroke-width="1" fill-opacity="0.8"/>
<rect x="58.15" y="661" width="15.6" height="30.21" fill="#8caef0" stroke="#6890e6" stroke-width="1"/>
<line x1="58.15" y1="691.21" x2="73.75" y2="691.21" stroke="#5d6f99" stroke-width="1"/>
<rect x="79.05" y="661" width="15.6" height="64.5" fill="#fff" stroke="#a3a3a3" stroke-width="1" fill-opacity="0.8"/>
<rect x="79.05" y="661" width="15.6" height="42.13" fill="#8caef0" stroke="#6890e6" stroke-width="1"/>
<line x1="79.05" y1="703.13" x2="94.65" y2="703.13" stroke="#5d6f99" stroke-width="1"/>
<rect x="99.96" y="661" width="15.6" height="64.5" fill="#fff" stroke="#a3a3a3" stroke-width="1" fill-opacity="0.8"/>
<rect x="99.96" y="661" width="15.6" height="32.6" fill="#8caef0" stroke="#6890e6" stroke-width="1"/>
<line x1="99.96" y1="693.6" x2="115.56" y2="693.6" stroke="#5d6f99" stroke-width="1"/>
<rect x="120.86" y="661" width="15.6" height="64.5" fill="#fff" stroke="#a3a3a3" stroke-width="1" fill-opacity="0.8"/>
<rect x="120.86" y="661" width="15.6" height="8.75" fill="#8caef0" stroke="#6890e6" stroke-width="1"/>
<line x1="120.86" y1="669.75" x2="136.46" y2="669.75" stroke="#5d6f99" stroke-width="1"/>
<rect x="141.76" y="661" width="15.6" height="64.5" fill="#fff" stroke="#a3a3a3" stroke-width="1" fill-opacity="0.8"/>
<rect x="141.76" y="661" width="15.6" height="3.98" fill="#8caef0" stroke="#6890e6" stroke-width="1"/>
<line x1="141.76" y1="664.98" x2="157.36" y2="664.98" stroke="#5d6f99" stroke-width="1"/>
<rect x="162.67" y="661" width="15.6" height="64.5" fill="#fff" stroke="#a3a3a3" stroke-width="1" fill-opacity="0.8"/>
<rect x="162.67" y="661" width="15.6" height="3.18" fill="#8caef0" stroke="#6890e6" stroke-width="1"/>
<line x1="162.67" y1="664.18" x2="178.27" y2="664.18" stroke="#5d6f99" stroke-width="1"/>
<rect x="183.57" y="661" width="15.6" height="64.5" fill="#fff" stroke="#a3a3a3" stroke-width="1" fill-opacity="0.8"/>
<rect x="183.57" y="661" width="15.6" height="0.8" fill="#8caef0" stroke="#6890e6" stroke-width="1"/>
<line x1="183.57" y1="661.8" x2="199.17" y2="661.8" stroke="#5d6f99" stroke-width="1"/>
<rect x="204.47" y="661" width="15.6" height="64.5" fill="#fff" stroke="#a3a3a3" stroke-width="1" fill-opacity="0.8"/>
<rect x="204.47" y="661" width="15.6" height="3.98" fill="#8caef0" stroke="#6890e6" stroke-width="1"/>
<line x1="204.47" y1="664.98" x2="220.07" y2="664.98" stroke="#5d6f99" stroke-width="1"/>
<rect x="225.38" y="661" width="15.6" height="64.5" fill="#fff" stroke="#a3a3a3" stroke-width="1" fill-opacity="0.8"/>
<rect x="225.38" y="661" width="15.6" height="16.7" fill="#8caef0" stroke="#6890e6" stroke-width="1"/>
<line x1="225.38" y1="677.7" x2="240.98" y2="677.7" stroke="#5d6f99" stroke-width="1"/>
<rect x="246.28" y="661" width="15.6" height="64.5" fill="#fff" stroke="#a3a3a3" stroke-width="1" fill-opacity="0.8"/>
<rect x="246.28" y="661" width="15.6" height="9.54" fill="#8caef0" stroke="#6890e6" stroke-width="1"/>
<line x1="246.28" y1="670.54" x2="261.88" y2="670.54" stroke="#5d6f99" stroke-width="1"/>
<rect x="267.18" y="661" width="15.6" height="64.5" fill="#fff" stroke="#a3a3a3" stroke-width="1" fill-opacity="0.8"/>
<rect x="267.18" y="661" width="15.6" height="1.59" fill="#8caef0" stroke="#6890e6" stroke-width="1"/>
<line x1="267.18" y1="662.59" x2="282.78" y2="662.59" stroke="#5d6f99" stroke-width="1"/>
<rect x="288.09" y="661" width="15.6" height="64.5" fill="#fff" stroke="#a3a3a3" stroke-width="1" fill-opacity="0.8"/>
<rect x="288.09" y="661" width="15.6" height="15.9" fill="#8caef0" stroke="#6890e6" stroke-width="1"/>
<line x1="288.09" y1="676.9" x2="303.69" y2="676.9" stroke="#5d6f99" stroke-width="1"/>
<rect x="308.99" y="661" width="15.6" height="64.5" fill="#fff" stroke="#a3a3a3" stroke-width="1" fill-opacity="0.8"/>
<rect x="308.99" y="661" width="15.6" height="25.44" fill="#8caef0" stroke="#6890e6" stroke-width="1"/>
<line x1="308.99" y1="686.44" x2="324.59" y2="686.44" stroke="#5d6f99" stroke-width="1"/>
<rect x="329.89" y="661" width="15.6" height="64.5" fill="#fff" stroke="#a3a3a3" stroke-width="1" fill-opacity="0.8"/>
<rect x="329.89" y="661" width="15.6" height="11.93" fill="#8caef0" stroke="#6890e6" stroke-width="1"/>
<line x1="329.89" y1="672.93" x2="345.49" y2="672.93" stroke="#5d6f99" stroke-width="1"/>
<rect x="350.8" y="661" width="15.6" height="64.5" fill="#fff" stroke="#a3a3a3" stroke-width="1" fill-opacity="0.8"/>
<rect x="350.8" y="661" width="15.6" height="17.49" fill="#8caef0" stroke="#6890e6" stroke-width="1"/>
<line x1="350.8" y1="678.49" x2="366.4" y2="678.49" stroke="#5d6f99" stroke-width="1"/>
<rect x="371.7" y="661" width="15.6" height="64.5" fill="#fff" stroke="#a3a3a3" stroke-width="1" fill-opacity="0.8"/>
<rect x="371.7" y="661" width="15.6" height="11.13" fill="#8caef0" stroke="#6890e6" stroke-width="1"/>
<line x1="371.7" y1="672.13" x2="387.3" y2="672.13" stroke="#5d6f99" stroke-width="1"/>
<rect x="392.6" y="661" width="15.6" height="64.5" fill="#fff" stroke="#a3a3a3" stroke-width="1" fill-opacity="0.8"/>
<rect x="392.6" y="661" width="15.6" height="11.13" fill="#8caef0" stroke="#6890e6" stroke-width="1"/>
<line x1="392.6" y1="672.13" x2="408.2" y2="672.13" stroke="#5d6f99" stroke-width="1"/>
<rect x="413.51" y="661" width="15.6" height="64.5" fill="#fff" stroke="#a3a3a3" stroke-width="1" fill-opacity="0.8"/>
<rect x="413.51" y="661" width="15.6" height="63.6" fill="#8caef0" stroke="#6890e6" stroke-width="1"/>
<line x1="413.51" y1="724.6" x2="429.11" y2="724.6" stroke="#5d6f99" stroke-width="1"/>
<text x="65.95" y="700.01" font-size="9.3" fill="#555" text-anchor="middle">4.2</text>
<text x="86.85" y="711.94" font-size="9.3" fill="#555" text-anchor="middle">2.7</text>
<text x="107.76" y="702.4" font-size="9.3" fill="#555" text-anchor="middle">3.9</text>
<text x="128.66" y="678.55" font-size="9.3" fill="#555" text-anchor="middle">6.9</text>
<text x="149.56" y="673.78" font-size="9.3" fill="#555" text-anchor="middle">7.5</text>
<text x="170.47" y="672.98" font-size="9.3" fill="#555" text-anchor="middle">7.6</text>
<text x="191.37" y="670.6" font-size="9.3" fill="#555" text-anchor="middle">7.9</text>
<text x="212.27" y="673.78" font-size="9.3" fill="#555" text-anchor="middle">7.5</text>
<text x="233.18" y="686.5" font-size="9.3" fill="#555" text-anchor="middle">5.9</text>
<text x="254.08" y="679.34" font-size="9.3" fill="#555" text-anchor="middle">6.8</text>
<text x="274.98" y="671.39" font-size="9.3" fill="#555" text-anchor="middle">7.8</text>
<text x="295.89" y="685.7" font-size="9.3" fill="#555" text-anchor="middle">6.0</text>
<text x="316.79" y="695.24" font-size="9.3" fill="#555" text-anchor="middle">4.8</text>
<text x="337.69" y="681.73" font-size="9.3" fill="#555" text-anchor="middle">6.5</text>
<text x="358.6" y="687.29" font-size="9.3" fill="#555" text-anchor="middle">5.8</text>
<text x="379.5" y="680.93" font-size="9.3" fill="#555" text-anchor="middle">6.6</text>
<text x="400.4" y="680.93" font-size="9.3" fill="#555" text-anchor="middle">6.6</text>
<text x="421.31" y="722.5" font-size="9.3" fill="#fff" text-anchor="middle">0.0</text>
<rect x="55.5" y="645.5" width="648" height="80" fill="none" stroke="#000" stroke-width="1"/>
<text x="63.1" y="656.3" font-size="11" fill="#555" text-anchor="start">Nm: 6.0 Achtel</text>
<text x="146.43" y="656.3" font-size="11" fill="#555" text-anchor="start">Nmx: 7.9 Achtel</text>
<text x="235.26" y="656.3" font-size="11" fill="#555" text-anchor="start">Nmn: 0.0 Achtel</text>
<text x="51.5" y="663.64" font-size="12" fill="#333" text-anchor="end">8</text>
<text x="51.5" y="679.98" font-size="12" fill="#333" text-anchor="end">6</text>
<text x="51.5" y="696.32" font-size="12" fill="#333" text-anchor="end">4</text>
<text x="51.5" y="712.66" font-size="12" fill="#333" text-anchor="end">2</text>
<text x="51.5" y="729" font-size="12" fill="#333" text-anchor="end">0</text>
<text x="0" y="0" font-size="12" fill="#333" text-anchor="middle" transform="translate(27,685.5) rotate(-90)">Achtel</text>
<text x="0" y="0" font-size="12" fill="#333" text-anchor="middle" transform="translate(720,685.5) rotate(-90)">Bedeckungsgrad</text>
<text x="65.25" y="738" font-size="11" fill="#333" text-anchor="middle">1</text>
<text x="86.15" y="738" font-size="11" fill="#333" text-anchor="middle">2</text>
<text x="107.06" y="738" font-size="11" fill="#333" text-anchor="middle">3</text>
<text x="127.96" y="738" font-size="11" fill="#333" text-anchor="middle">4</text>
<text x="148.86" y="738" font-size="11" fill="#333" text-anchor="middle">5</text>
<text x="169.77" y="738" font-size="11" fill="#333" text-anchor="middle">6</text>
<text x="190.67" y="738" font-size="11" fill="#333" text-anchor="middle">7</text>
<text x="211.57" y="738" font-size="11" fill="#333" text-anchor="middle">8</text>
<text x="232.48" y="738" font-size="11" fill="#333" text-anchor="middle">9</text>
<text x="253.38" y="738" font-size="11" fill="#333" text-anchor="middle">10</text>
<text x="274.28" y="738" font-size="11" fill="#333" text-anchor="middle">11</text>
<text x="295.19" y="738" font-size="11" fill="#333" text-anchor="middle">12</text>
<text x="316.09" y="738" font-size="11" fill="#333" text-anchor="middle">13</text>
<text x="336.99" y="738" font-size="11" fill="#333" text-anchor="middle">14</text>
<text x="357.9" y="738" font-size="11" fill="#333" text-anchor="middle">15</text>
<text x="378.8" y="738" font-size="11" fill="#333" text-anchor="middle">16</text>
<text x="399.7" y="738" font-size="11" fill="#333" text-anchor="middle">17</text>
<text x="420.61" y="738" font-size="11" fill="#333" text-anchor="middle">18</text>
<text x="441.51" y="738" font-size="11" fill="#333" text-anchor="middle">19</text>
<text x="462.41" y="738" font-size="11" fill="#333" text-anchor="middle">20</text>
<text x="483.32" y="738" font-size="11" fill="#333" text-anchor="middle">21</text>
<text x="504.22" y="738" font-size="11" fill="#333" text-anchor="middle">22</text>
<text x="525.12" y="738" font-size="11" fill="#333" text-anchor="middle">23</text>
<text x="546.03" y="738" font-size="11" fill="#333" text-anchor="middle">24</text>
<text x="566.93" y="738" font-size="11" fill="#333" text-anchor="middle">25</text>
<text x="587.83" y="738" font-size="11" fill="#333" text-anchor="middle">26</text>
<text x="608.74" y="738" font-size="11" fill="#333" text-anchor="middle">27</text>
<text x="629.64" y="738" font-size="11" fill="#333" text-anchor="middle">28</text>
<text x="650.54" y="738" font-size="11" fill="#333" text-anchor="middle">29</text>
<text x="671.45" y="738" font-size="11" fill="#333" text-anchor="middle">30</text>
<text x="692.35" y="738" font-size="11" fill="#333" text-anchor="middle">31</text>
<line x1="76.4" y1="747.5" x2="76.4" y2="824.5" stroke="#ebebeb" stroke-width="1.8"/>
<line x1="97.31" y1="747.5" x2="97.31" y2="824.5" stroke="#ebebeb" stroke-width="1.8"/>
<line x1="118.21" y1="747.5" x2="118.21" y2="824.5" stroke="#ebebeb" stroke-width="1.8"/>
<line x1="139.11" y1="747.5" x2="139.11" y2="824.5" stroke="#ebebeb" stroke-width="1.8"/>
<line x1="160.02" y1="747.5" x2="160.02" y2="824.5" stroke="#ebebeb" stroke-width="1.8"/>
<line x1="180.92" y1="747.5" x2="180.92" y2="824.5" stroke="#ebebeb" stroke-width="1.8"/>
<line x1="201.82" y1="747.5" x2="201.82" y2="824.5" stroke="#ebebeb" stroke-width="1.8"/>
<line x1="222.73" y1="747.5" x2="222.73" y2="824.5" stroke="#ebebeb" stroke-width="1.8"/>
<line x1="243.63" y1="747.5" x2="243.63" y2="824.5" stroke="#ebebeb" stroke-width="1.8"/>
<line x1="264.53" y1="747.5" x2="264.53" y2="824.5" stroke="#ebebeb" stroke-width="1.8"/>
<line x1="285.44" y1="747.5" x2="285.44" y2="824.5" stroke="#ebebeb" stroke-width="1.8"/>
<line x1="306.34" y1="747.5" x2="306.34" y2="824.5" stroke="#ebebeb" stroke-width="1.8"/>
<line x1="327.24" y1="747.5" x2="327.24" y2="824.5" stroke="#ebebeb" stroke-width="1.8"/>
<line x1="348.15" y1="747.5" x2="348.15" y2="824.5" stroke="#ebebeb" stroke-width="1.8"/>
<line x1="369.05" y1="747.5" x2="369.05" y2="824.5" stroke="#ebebeb" stroke-width="1.8"/>
<line x1="389.95" y1="747.5" x2="389.95" y2="824.5" stroke="#ebebeb" stroke-width="1.8"/>
<line x1="410.85" y1="747.5" x2="410.85" y2="824.5" stroke="#ebebeb" stroke-width="1.8"/>
<line x1="452.66" y1="747.5" x2="452.66" y2="824.5" stroke="#ebebeb" stroke-width="1.8"/>
<line x1="473.56" y1="747.5" x2="473.56" y2="824.5" stroke="#ebebeb" stroke-width="1.8"/>
<line x1="494.47" y1="747.5" x2="494.47" y2="824.5" stroke="#ebebeb" stroke-width="1.8"/>
<line x1="515.37" y1="747.5" x2="515.37" y2="824.5" stroke="#ebebeb" stroke-width="1.8"/>
<line x1="536.27" y1="747.5" x2="536.27" y2="824.5" stroke="#ebebeb" stroke-width="1.8"/>
<line x1="557.18" y1="747.5" x2="557.18" y2="824.5" stroke="#ebebeb" stroke-width="1.8"/>
<line x1="578.08" y1="747.5" x2="578.08" y2="824.5" stroke="#ebebeb" stroke-width="1.8"/>
<line x1="598.98" y1="747.5" x2="598.98" y2="824.5" stroke="#ebebeb" stroke-width="1.8"/>
<line x1="619.89" y1="747.5" x2="619.89" y2="824.5" stroke="#ebebeb" stroke-width="1.8"/>
<line x1="640.79" y1="747.5" x2="640.79" y2="824.5" stroke="#ebebeb" stroke-width="1.8"/>
<line x1="661.69" y1="747.5" x2="661.69" y2="824.5" stroke="#ebebeb" stroke-width="1.8"/>
<line x1="682.6" y1="747.5" x2="682.6" y2="824.5" stroke="#ebebeb" stroke-width="1.8"/>
<line x1="431.76" y1="746.5" x2="431.76" y2="824.5" stroke="#f2c8cc" stroke-width="1.5"/>
<line x1="57" y1="822.3" x2="702.5" y2="822.3" stroke="#fff" stroke-width="2.2" stroke-opacity="0.6"/>
<line x1="57" y1="822.3" x2="702.5" y2="822.3" stroke="#f1f1f1" stroke-width="1"/>
<line x1="57" y1="819.1" x2="702.5" y2="819.1" stroke="#fff" stroke-width="2.2" stroke-opacity="0.6"/>
<line x1="57" y1="819.1" x2="702.5" y2="819.1" stroke="#f1f1f1" stroke-width="1"/>
<line x1="57" y1="815.9" x2="702.5" y2="815.9" stroke="#fff" stroke-width="2.2" stroke-opacity="0.6"/>
<line x1="57" y1="815.9" x2="702.5" y2="815.9" stroke="#f1f1f1" stroke-width="1"/>
<line x1="57" y1="812.7" x2="702.5" y2="812.7" stroke="#fff" stroke-width="2.2" stroke-opacity="0.6"/>
<line x1="57" y1="812.7" x2="702.5" y2="812.7" stroke="#f1f1f1" stroke-width="1"/>
<line x1="57" y1="809.5" x2="702.5" y2="809.5" stroke="#fff" stroke-width="2.2" stroke-opacity="0.6"/>
<line x1="57" y1="809.5" x2="702.5" y2="809.5" stroke="#dcdcdc" stroke-width="1"/>
<line x1="57" y1="806.3" x2="702.5" y2="806.3" stroke="#fff" stroke-width="2.2" stroke-opacity="0.6"/>
<line x1="57" y1="806.3" x2="702.5" y2="806.3" stroke="#f1f1f1" stroke-width="1"/>
<line x1="57" y1="803.1" x2="702.5" y2="803.1" stroke="#fff" stroke-width="2.2" stroke-opacity="0.6"/>
<line x1="57" y1="803.1" x2="702.5" y2="803.1" stroke="#f1f1f1" stroke-width="1"/>
<line x1="57" y1="799.9" x2="702.5" y2="799.9" stroke="#fff" stroke-width="2.2" stroke-opacity="0.6"/>
<line x1="57" y1="799.9" x2="702.5" y2="799.9" stroke="#f1f1f1" stroke-width="1"/>
<line x1="57" y1="796.7" x2="702.5" y2="796.7" stroke="#fff" stroke-width="2.2" stroke-opacity="0.6"/>
<line x1="57" y1="796.7" x2="702.5" y2="796.7" stroke="#f1f1f1" stroke-width="1"/>
<line x1="57" y1="793.5" x2="702.5" y2="793.5" stroke="#fff" stroke-width="2.2" stroke-opacity="0.6"/>
<line x1="57" y1="793.5" x2="702.5" y2="793.5" stroke="#dcdcdc" stroke-width="1"/>
<line x1="57" y1="790.3" x2="702.5" y2="790.3" stroke="#fff" stroke-width="2.2" stroke-opacity="0.6"/>
<line x1="57" y1="790.3" x2="702.5" y2="790.3" stroke="#f1f1f1" stroke-width="1"/>
<line x1="57" y1="787.1" x2="702.5" y2="787.1" stroke="#fff" stroke-width="2.2" stroke-opacity="0.6"/>
<line x1="57" y1="787.1" x2="702.5" y2="787.1" stroke="#f1f1f1" stroke-width="1"/>
<line x1="57" y1="783.9" x2="702.5" y2="783.9" stroke="#fff" stroke-width="2.2" stroke-opacity="0.6"/>
<line x1="57" y1="783.9" x2="702.5" y2="783.9" stroke="#f1f1f1" stroke-width="1"/>
<line x1="57" y1="780.7" x2="702.5" y2="780.7" stroke="#fff" stroke-width="2.2" stroke-opacity="0.6"/>
<line x1="57" y1="780.7" x2="702.5" y2="780.7" stroke="#f1f1f1" stroke-width="1"/>
<line x1="57" y1="777.5" x2="702.5" y2="777.5" stroke="#fff" stroke-width="2.2" stroke-opacity="0.6"/>
<line x1="57" y1="777.5" x2="702.5" y2="777.5" stroke="#dcdcdc" stroke-width="1"/>
<line x1="57" y1="774.3" x2="702.5" y2="774.3" stroke="#fff" stroke-width="2.2" stroke-opacity="0.6"/>
<line x1="57" y1="774.3" x2="702.5" y2="774.3" stroke="#f1f1f1" stroke-width="1"/>
<line x1="57" y1="771.1" x2="702.5" y2="771.1" stroke="#fff" stroke-width="2.2" stroke-opacity="0.6"/>
<line x1="57" y1="771.1" x2="702.5" y2="771.1" stroke="#f1f1f1" stroke-width="1"/>
<line x1="57" y1="767.9" x2="702.5" y2="767.9" stroke="#fff" stroke-width="2.2" stroke-opacity="0.6"/>
<line x1="57" y1="767.9" x2="702.5" y2="767.9" stroke="#f1f1f1" stroke-width="1"/>
<line x1="57" y1="764.7" x2="702.5" y2="764.7" stroke="#fff" stroke-width="2.2" stroke-opacity="0.6"/>
<line x1="57" y1="764.7" x2="702.5" y2="764.7" stroke="#f1f1f1" stroke-width="1"/>
<line x1="57" y1="761.5" x2="702.5" y2="761.5" stroke="#fff" stroke-width="2.2" stroke-opacity="0.6"/>
<line x1="57" y1="761.5" x2="702.5" y2="761.5" stroke="#dcdcdc" stroke-width="1"/>
<line x1="57" y1="758.3" x2="702.5" y2="758.3" stroke="#fff" stroke-width="2.2" stroke-opacity="0.6"/>
<line x1="57" y1="758.3" x2="702.5" y2="758.3" stroke="#f1f1f1" stroke-width="1"/>
<line x1="57" y1="755.1" x2="702.5" y2="755.1" stroke="#fff" stroke-width="2.2" stroke-opacity="0.6"/>
<line x1="57" y1="755.1" x2="702.5" y2="755.1" stroke="#f1f1f1" stroke-width="1"/>
<line x1="57" y1="751.9" x2="702.5" y2="751.9" stroke="#fff" stroke-width="2.2" stroke-opacity="0.6"/>
<line x1="57" y1="751.9" x2="702.5" y2="751.9" stroke="#f1f1f1" stroke-width="1"/>
<line x1="57" y1="748.7" x2="702.5" y2="748.7" stroke="#fff" stroke-width="2.2" stroke-opacity="0.6"/>
<line x1="57" y1="748.7" x2="702.5" y2="748.7" stroke="#f1f1f1" stroke-width="1"/>
<rect x="58.15" y="781.22" width="15.6" height="6.98" fill="#a9c0f2" stroke="#7098e8" stroke-width="1" fill-opacity="0.85"/>
<rect x="58.15" y="773.6" width="15.6" height="7.62" fill="#8caaf0" stroke="#6890e6" stroke-width="1" fill-opacity="0.9"/>
<line x1="58.15" y1="781.22" x2="73.75" y2="781.22" stroke="#3d6fdc" stroke-width="1.1"/>
<rect x="79.05" y="777.5" width="15.6" height="6.46" fill="#a9c0f2" stroke="#7098e8" stroke-width="1" fill-opacity="0.85"/>
<rect x="79.05" y="768.99" width="15.6" height="8.51" fill="#8caaf0" stroke="#6890e6" stroke-width="1" fill-opacity="0.9"/>
<line x1="79.05" y1="777.5" x2="94.65" y2="777.5" stroke="#3d6fdc" stroke-width="1.1"/>
<rect x="99.96" y="779.62" width="15.6" height="10.88" fill="#a9c0f2" stroke="#7098e8" stroke-width="1" fill-opacity="0.85"/>
<rect x="99.96" y="764.19" width="15.6" height="15.42" fill="#8caaf0" stroke="#6890e6" stroke-width="1" fill-opacity="0.9"/>
<line x1="99.96" y1="779.62" x2="115.56" y2="779.62" stroke="#3d6fdc" stroke-width="1.1"/>
<rect x="120.86" y="770.46" width="15.6" height="13.12" fill="#a9c0f2" stroke="#7098e8" stroke-width="1" fill-opacity="0.85"/>
<rect x="120.86" y="761.31" width="15.6" height="9.15" fill="#8caaf0" stroke="#6890e6" stroke-width="1" fill-opacity="0.9"/>
<line x1="120.86" y1="770.46" x2="136.46" y2="770.46" stroke="#3d6fdc" stroke-width="1.1"/>
<rect x="141.76" y="769.38" width="15.6" height="7.87" fill="#a9c0f2" stroke="#7098e8" stroke-width="1" fill-opacity="0.85"/>
<rect x="141.76" y="761.5" width="15.6" height="7.87" fill="#8caaf0" stroke="#6890e6" stroke-width="1" fill-opacity="0.9"/>
<line x1="141.76" y1="769.38" x2="157.36" y2="769.38" stroke="#3d6fdc" stroke-width="1.1"/>
<rect x="162.67" y="768.1" width="15.6" height="7.81" fill="#a9c0f2" stroke="#7098e8" stroke-width="1" fill-opacity="0.85"/>
<rect x="162.67" y="762.53" width="15.6" height="5.57" fill="#8caaf0" stroke="#6890e6" stroke-width="1" fill-opacity="0.9"/>
<line x1="162.67" y1="768.1" x2="178.27" y2="768.1" stroke="#3d6fdc" stroke-width="1.1"/>
<rect x="183.57" y="763.1" width="15.6" height="4.67" fill="#a9c0f2" stroke="#7098e8" stroke-width="1" fill-opacity="0.85"/>
<rect x="183.57" y="760.8" width="15.6" height="2.3" fill="#8caaf0" stroke="#6890e6" stroke-width="1" fill-opacity="0.9"/>
<line x1="183.57" y1="763.1" x2="199.17" y2="763.1" stroke="#3d6fdc" stroke-width="1.1"/>
<rect x="204.47" y="762.27" width="15.6" height="13.25" fill="#a9c0f2" stroke="#7098e8" stroke-width="1" fill-opacity="0.85"/>
<rect x="204.47" y="760.8" width="15.6" height="1.47" fill="#8caaf0" stroke="#6890e6" stroke-width="1" fill-opacity="0.9"/>
<line x1="204.47" y1="762.27" x2="220.07" y2="762.27" stroke="#3d6fdc" stroke-width="1.1"/>
<rect x="225.38" y="770.02" width="15.6" height="8.51" fill="#a9c0f2" stroke="#7098e8" stroke-width="1" fill-opacity="0.85"/>
<rect x="225.38" y="762.27" width="15.6" height="7.74" fill="#8caaf0" stroke="#6890e6" stroke-width="1" fill-opacity="0.9"/>
<line x1="225.38" y1="770.02" x2="240.98" y2="770.02" stroke="#3d6fdc" stroke-width="1.1"/>
<rect x="246.28" y="771.94" width="15.6" height="5.06" fill="#a9c0f2" stroke="#7098e8" stroke-width="1" fill-opacity="0.85"/>
<rect x="246.28" y="765.79" width="15.6" height="6.14" fill="#8caaf0" stroke="#6890e6" stroke-width="1" fill-opacity="0.9"/>
<line x1="246.28" y1="771.94" x2="261.88" y2="771.94" stroke="#3d6fdc" stroke-width="1.1"/>
<rect x="267.18" y="771.94" width="15.6" height="4.54" fill="#a9c0f2" stroke="#7098e8" stroke-width="1" fill-opacity="0.85"/>
<rect x="267.18" y="768.74" width="15.6" height="3.2" fill="#8caaf0" stroke="#6890e6" stroke-width="1" fill-opacity="0.9"/>
<line x1="267.18" y1="771.94" x2="282.78" y2="771.94" stroke="#3d6fdc" stroke-width="1.1"/>
<rect x="288.09" y="769.63" width="15.6" height="13.12" fill="#a9c0f2" stroke="#7098e8" stroke-width="1" fill-opacity="0.85"/>
<rect x="288.09" y="762.34" width="15.6" height="7.3" fill="#8caaf0" stroke="#6890e6" stroke-width="1" fill-opacity="0.9"/>
<line x1="288.09" y1="769.63" x2="303.69" y2="769.63" stroke="#3d6fdc" stroke-width="1.1"/>
<rect x="308.99" y="778.4" width="15.6" height="8.13" fill="#a9c0f2" stroke="#7098e8" stroke-width="1" fill-opacity="0.85"/>
<rect x="308.99" y="767.2" width="15.6" height="11.2" fill="#8caaf0" stroke="#6890e6" stroke-width="1" fill-opacity="0.9"/>
<line x1="308.99" y1="778.4" x2="324.59" y2="778.4" stroke="#3d6fdc" stroke-width="1.1"/>
<rect x="329.89" y="768.03" width="15.6" height="7.55" fill="#a9c0f2" stroke="#7098e8" stroke-width="1" fill-opacity="0.85"/>
<rect x="329.89" y="762.4" width="15.6" height="5.63" fill="#8caaf0" stroke="#6890e6" stroke-width="1" fill-opacity="0.9"/>
<line x1="329.89" y1="768.03" x2="345.49" y2="768.03" stroke="#3d6fdc" stroke-width="1.1"/>
<rect x="350.8" y="769.18" width="15.6" height="10.43" fill="#a9c0f2" stroke="#7098e8" stroke-width="1" fill-opacity="0.85"/>
<rect x="350.8" y="761.82" width="15.6" height="7.36" fill="#8caaf0" stroke="#6890e6" stroke-width="1" fill-opacity="0.9"/>
<line x1="350.8" y1="769.18" x2="366.4" y2="769.18" stroke="#3d6fdc" stroke-width="1.1"/>
<rect x="371.7" y="771.42" width="15.6" height="7.23" fill="#a9c0f2" stroke="#7098e8" stroke-width="1" fill-opacity="0.85"/>
<rect x="371.7" y="765.73" width="15.6" height="5.7" fill="#8caaf0" stroke="#6890e6" stroke-width="1" fill-opacity="0.9"/>
<line x1="371.7" y1="771.42" x2="387.3" y2="771.42" stroke="#3d6fdc" stroke-width="1.1"/>
<rect x="392.6" y="774.18" width="15.6" height="7.1" fill="#a9c0f2" stroke="#7098e8" stroke-width="1" fill-opacity="0.85"/>
<rect x="392.6" y="767.33" width="15.6" height="6.85" fill="#8caaf0" stroke="#6890e6" stroke-width="1" fill-opacity="0.9"/>
<line x1="392.6" y1="774.18" x2="408.2" y2="774.18" stroke="#3d6fdc" stroke-width="1.1"/>
<rect x="413.51" y="783.52" width="15.6" height="5.7" fill="#a9c0f2" stroke="#7098e8" stroke-width="1" fill-opacity="0.85"/>
<rect x="413.51" y="774.75" width="15.6" height="8.77" fill="#8caaf0" stroke="#6890e6" stroke-width="1" fill-opacity="0.9"/>
<line x1="413.51" y1="783.52" x2="429.11" y2="783.52" stroke="#3d6fdc" stroke-width="1.1"/>
<text x="65.95" y="770.5" font-size="9.3" fill="#86a4ea" text-anchor="middle">80.0</text>
<text x="65.95" y="797.19" font-size="9.3" fill="#86a4ea" text-anchor="middle">57.2</text>
<text x="86.85" y="765.89" font-size="9.3" fill="#86a4ea" text-anchor="middle">87.2</text>
<text x="86.85" y="792.97" font-size="9.3" fill="#86a4ea" text-anchor="middle">63.8</text>
<text x="107.76" y="761.09" font-size="9.3" fill="#86a4ea" text-anchor="middle">94.7</text>
<text x="107.76" y="799.5" font-size="9.3" fill="#86a4ea" text-anchor="middle">53.6</text>
<text x="128.66" y="758.21" font-size="9.3" fill="#86a4ea" text-anchor="middle">99.2</text>
<text x="128.66" y="792.58" font-size="9.3" fill="#86a4ea" text-anchor="middle">64.4</text>
<text x="149.56" y="758.4" font-size="9.3" fill="#86a4ea" text-anchor="middle">98.9</text>
<text x="149.56" y="786.25" font-size="9.3" fill="#86a4ea" text-anchor="middle">74.3</text>
<text x="170.47" y="759.43" font-size="9.3" fill="#86a4ea" text-anchor="middle">97.3</text>
<text x="170.47" y="784.9" font-size="9.3" fill="#86a4ea" text-anchor="middle">76.4</text>
<text x="191.37" y="757.7" font-size="9.3" fill="#86a4ea" text-anchor="middle">100</text>
<text x="191.37" y="776.78" font-size="9.3" fill="#86a4ea" text-anchor="middle">89.1</text>
<text x="212.27" y="757.7" font-size="9.3" fill="#86a4ea" text-anchor="middle">100</text>
<text x="212.27" y="784.52" font-size="9.3" fill="#86a4ea" text-anchor="middle">77.0</text>
<text x="233.18" y="759.17" font-size="9.3" fill="#86a4ea" text-anchor="middle">97.7</text>
<text x="233.18" y="787.53" font-size="9.3" fill="#86a4ea" text-anchor="middle">72.3</text>
<text x="254.08" y="762.69" font-size="9.3" fill="#86a4ea" text-anchor="middle">92.2</text>
<text x="254.08" y="785.99" font-size="9.3" fill="#86a4ea" text-anchor="middle">74.7</text>
<text x="274.98" y="765.64" font-size="9.3" fill="#86a4ea" text-anchor="middle">87.6</text>
<text x="274.98" y="785.48" font-size="9.3" fill="#86a4ea" text-anchor="middle">75.5</text>
<text x="295.89" y="759.24" font-size="9.3" fill="#86a4ea" text-anchor="middle">97.6</text>
<text x="295.89" y="791.75" font-size="9.3" fill="#86a4ea" text-anchor="middle">65.7</text>
<text x="316.79" y="764.1" font-size="9.3" fill="#86a4ea" text-anchor="middle">90.0</text>
<text x="316.79" y="795.53" font-size="9.3" fill="#86a4ea" text-anchor="middle">59.8</text>
<text x="337.69" y="759.3" font-size="9.3" fill="#86a4ea" text-anchor="middle">97.5</text>
<text x="337.69" y="784.58" font-size="9.3" fill="#86a4ea" text-anchor="middle">76.9</text>
<text x="358.6" y="758.72" font-size="9.3" fill="#86a4ea" text-anchor="middle">98.4</text>
<text x="358.6" y="788.62" font-size="9.3" fill="#86a4ea" text-anchor="middle">70.6</text>
<text x="379.5" y="762.63" font-size="9.3" fill="#86a4ea" text-anchor="middle">92.3</text>
<text x="379.5" y="787.66" font-size="9.3" fill="#86a4ea" text-anchor="middle">72.1</text>
<text x="400.4" y="764.23" font-size="9.3" fill="#86a4ea" text-anchor="middle">89.8</text>
<text x="400.4" y="790.28" font-size="9.3" fill="#86a4ea" text-anchor="middle">68.0</text>
<text x="421.31" y="771.65" font-size="9.3" fill="#86a4ea" text-anchor="middle">78.2</text>
<text x="421.31" y="798.22" font-size="9.3" fill="#86a4ea" text-anchor="middle">55.6</text>
<rect x="55.5" y="745.5" width="648" height="80" fill="none" stroke="#000" stroke-width="1"/>
<text x="63.1" y="756" font-size="11" fill="#383838" text-anchor="start">Um: 82.4 %</text>
<text x="132.37" y="756" font-size="11" fill="#383838" text-anchor="start">Uxx: 100.0 %</text>
<text x="209.59" y="756" font-size="11" fill="#383838" text-anchor="start">Unn: 53.6 %</text>
<text x="281.92" y="756" font-size="11" fill="#383838" text-anchor="start">Umx: 97.5 %</text>
<text x="356.69" y="756" font-size="11" fill="#383838" text-anchor="start">Umn: 65.6 %</text>
<text x="51.5" y="765" font-size="12" fill="#333" text-anchor="end">100</text>
<text x="51.5" y="781" font-size="12" fill="#333" text-anchor="end">75</text>
<text x="51.5" y="797" font-size="12" fill="#333" text-anchor="end">50</text>
<text x="51.5" y="813" font-size="12" fill="#333" text-anchor="end">25</text>
<text x="51.5" y="829" font-size="12" fill="#333" text-anchor="end">0</text>
<text x="0" y="0" font-size="12" fill="#333" text-anchor="middle" transform="translate(27,785.5) rotate(-90)">Prozent</text>
<text x="0" y="0" font-size="12" fill="#333" text-anchor="middle" transform="translate(720,785.5) rotate(-90)">Luftfeuchte</text>
<text x="65.25" y="838" font-size="11" fill="#333" text-anchor="middle">1</text>
<text x="86.15" y="838" font-size="11" fill="#333" text-anchor="middle">2</text>
<text x="107.06" y="838" font-size="11" fill="#333" text-anchor="middle">3</text>
<text x="127.96" y="838" font-size="11" fill="#333" text-anchor="middle">4</text>
<text x="148.86" y="838" font-size="11" fill="#333" text-anchor="middle">5</text>
<text x="169.77" y="838" font-size="11" fill="#333" text-anchor="middle">6</text>
<text x="190.67" y="838" font-size="11" fill="#333" text-anchor="middle">7</text>
<text x="211.57" y="838" font-size="11" fill="#333" text-anchor="middle">8</text>
<text x="232.48" y="838" font-size="11" fill="#333" text-anchor="middle">9</text>
<text x="253.38" y="838" font-size="11" fill="#333" text-anchor="middle">10</text>
<text x="274.28" y="838" font-size="11" fill="#333" text-anchor="middle">11</text>
<text x="295.19" y="838" font-size="11" fill="#333" text-anchor="middle">12</text>
<text x="316.09" y="838" font-size="11" fill="#333" text-anchor="middle">13</text>
<text x="336.99" y="838" font-size="11" fill="#333" text-anchor="middle">14</text>
<text x="357.9" y="838" font-size="11" fill="#333" text-anchor="middle">15</text>
<text x="378.8" y="838" font-size="11" fill="#333" text-anchor="middle">16</text>
<text x="399.7" y="838" font-size="11" fill="#333" text-anchor="middle">17</text>
<text x="420.61" y="838" font-size="11" fill="#333" text-anchor="middle">18</text>
<text x="441.51" y="838" font-size="11" fill="#333" text-anchor="middle">19</text>
<text x="462.41" y="838" font-size="11" fill="#333" text-anchor="middle">20</text>
<text x="483.32" y="838" font-size="11" fill="#333" text-anchor="middle">21</text>
<text x="504.22" y="838" font-size="11" fill="#333" text-anchor="middle">22</text>
<text x="525.12" y="838" font-size="11" fill="#333" text-anchor="middle">23</text>
<text x="546.03" y="838" font-size="11" fill="#333" text-anchor="middle">24</text>
<text x="566.93" y="838" font-size="11" fill="#333" text-anchor="middle">25</text>
<text x="587.83" y="838" font-size="11" fill="#333" text-anchor="middle">26</text>
<text x="608.74" y="838" font-size="11" fill="#333" text-anchor="middle">27</text>
<text x="629.64" y="838" font-size="11" fill="#333" text-anchor="middle">28</text>
<text x="650.54" y="838" font-size="11" fill="#333" text-anchor="middle">29</text>
<text x="671.45" y="838" font-size="11" fill="#333" text-anchor="middle">30</text>
<text x="692.35" y="838" font-size="11" fill="#333" text-anchor="middle">31</text>
<line x1="76.4" y1="847.5" x2="76.4" y2="964.5" stroke="#ebebeb" stroke-width="1.8"/>
<line x1="97.31" y1="847.5" x2="97.31" y2="964.5" stroke="#ebebeb" stroke-width="1.8"/>
<line x1="118.21" y1="847.5" x2="118.21" y2="964.5" stroke="#ebebeb" stroke-width="1.8"/>
<line x1="139.11" y1="847.5" x2="139.11" y2="964.5" stroke="#ebebeb" stroke-width="1.8"/>
<line x1="160.02" y1="847.5" x2="160.02" y2="964.5" stroke="#ebebeb" stroke-width="1.8"/>
<line x1="180.92" y1="847.5" x2="180.92" y2="964.5" stroke="#ebebeb" stroke-width="1.8"/>
<line x1="201.82" y1="847.5" x2="201.82" y2="964.5" stroke="#ebebeb" stroke-width="1.8"/>
<line x1="222.73" y1="847.5" x2="222.73" y2="964.5" stroke="#ebebeb" stroke-width="1.8"/>
<line x1="243.63" y1="847.5" x2="243.63" y2="964.5" stroke="#ebebeb" stroke-width="1.8"/>
<line x1="264.53" y1="847.5" x2="264.53" y2="964.5" stroke="#ebebeb" stroke-width="1.8"/>
<line x1="285.44" y1="847.5" x2="285.44" y2="964.5" stroke="#ebebeb" stroke-width="1.8"/>
<line x1="306.34" y1="847.5" x2="306.34" y2="964.5" stroke="#ebebeb" stroke-width="1.8"/>
<line x1="327.24" y1="847.5" x2="327.24" y2="964.5" stroke="#ebebeb" stroke-width="1.8"/>
<line x1="348.15" y1="847.5" x2="348.15" y2="964.5" stroke="#ebebeb" stroke-width="1.8"/>
<line x1="369.05" y1="847.5" x2="369.05" y2="964.5" stroke="#ebebeb" stroke-width="1.8"/>
<line x1="389.95" y1="847.5" x2="389.95" y2="964.5" stroke="#ebebeb" stroke-width="1.8"/>
<line x1="410.85" y1="847.5" x2="410.85" y2="964.5" stroke="#ebebeb" stroke-width="1.8"/>
<line x1="452.66" y1="847.5" x2="452.66" y2="964.5" stroke="#ebebeb" stroke-width="1.8"/>
<line x1="473.56" y1="847.5" x2="473.56" y2="964.5" stroke="#ebebeb" stroke-width="1.8"/>
<line x1="494.47" y1="847.5" x2="494.47" y2="964.5" stroke="#ebebeb" stroke-width="1.8"/>
<line x1="515.37" y1="847.5" x2="515.37" y2="964.5" stroke="#ebebeb" stroke-width="1.8"/>
<line x1="536.27" y1="847.5" x2="536.27" y2="964.5" stroke="#ebebeb" stroke-width="1.8"/>
<line x1="557.18" y1="847.5" x2="557.18" y2="964.5" stroke="#ebebeb" stroke-width="1.8"/>
<line x1="578.08" y1="847.5" x2="578.08" y2="964.5" stroke="#ebebeb" stroke-width="1.8"/>
<line x1="598.98" y1="847.5" x2="598.98" y2="964.5" stroke="#ebebeb" stroke-width="1.8"/>
<line x1="619.89" y1="847.5" x2="619.89" y2="964.5" stroke="#ebebeb" stroke-width="1.8"/>
<line x1="640.79" y1="847.5" x2="640.79" y2="964.5" stroke="#ebebeb" stroke-width="1.8"/>
<line x1="661.69" y1="847.5" x2="661.69" y2="964.5" stroke="#ebebeb" stroke-width="1.8"/>
<line x1="682.6" y1="847.5" x2="682.6" y2="964.5" stroke="#ebebeb" stroke-width="1.8"/>
<line x1="431.76" y1="846.5" x2="431.76" y2="964.5" stroke="#f2c8cc" stroke-width="1.5"/>
<line x1="57" y1="962.07" x2="702.5" y2="962.07" stroke="#fff" stroke-width="2.2" stroke-opacity="0.6"/>
<line x1="57" y1="962.07" x2="702.5" y2="962.07" stroke="#f1f1f1" stroke-width="1"/>
<line x1="57" y1="958.64" x2="702.5" y2="958.64" stroke="#fff" stroke-width="2.2" stroke-opacity="0.6"/>
<line x1="57" y1="958.64" x2="702.5" y2="958.64" stroke="#f1f1f1" stroke-width="1"/>
<line x1="57" y1="955.21" x2="702.5" y2="955.21" stroke="#fff" stroke-width="2.2" stroke-opacity="0.6"/>
<line x1="57" y1="955.21" x2="702.5" y2="955.21" stroke="#f1f1f1" stroke-width="1"/>
<line x1="57" y1="951.79" x2="702.5" y2="951.79" stroke="#fff" stroke-width="2.2" stroke-opacity="0.6"/>
<line x1="57" y1="951.79" x2="702.5" y2="951.79" stroke="#f1f1f1" stroke-width="1"/>
<line x1="57" y1="948.36" x2="702.5" y2="948.36" stroke="#fff" stroke-width="2.2" stroke-opacity="0.6"/>
<line x1="57" y1="948.36" x2="702.5" y2="948.36" stroke="#dcdcdc" stroke-width="1"/>
<line x1="57" y1="944.93" x2="702.5" y2="944.93" stroke="#fff" stroke-width="2.2" stroke-opacity="0.6"/>
<line x1="57" y1="944.93" x2="702.5" y2="944.93" stroke="#f1f1f1" stroke-width="1"/>
<line x1="57" y1="941.5" x2="702.5" y2="941.5" stroke="#fff" stroke-width="2.2" stroke-opacity="0.6"/>
<line x1="57" y1="941.5" x2="702.5" y2="941.5" stroke="#f1f1f1" stroke-width="1"/>
<line x1="57" y1="938.07" x2="702.5" y2="938.07" stroke="#fff" stroke-width="2.2" stroke-opacity="0.6"/>
<line x1="57" y1="938.07" x2="702.5" y2="938.07" stroke="#f1f1f1" stroke-width="1"/>
<line x1="57" y1="934.64" x2="702.5" y2="934.64" stroke="#fff" stroke-width="2.2" stroke-opacity="0.6"/>
<line x1="57" y1="934.64" x2="702.5" y2="934.64" stroke="#f1f1f1" stroke-width="1"/>
<line x1="57" y1="931.21" x2="702.5" y2="931.21" stroke="#fff" stroke-width="2.2" stroke-opacity="0.6"/>
<line x1="57" y1="931.21" x2="702.5" y2="931.21" stroke="#dcdcdc" stroke-width="1"/>
<line x1="57" y1="927.79" x2="702.5" y2="927.79" stroke="#fff" stroke-width="2.2" stroke-opacity="0.6"/>
<line x1="57" y1="927.79" x2="702.5" y2="927.79" stroke="#f1f1f1" stroke-width="1"/>
<line x1="57" y1="924.36" x2="702.5" y2="924.36" stroke="#fff" stroke-width="2.2" stroke-opacity="0.6"/>
<line x1="57" y1="924.36" x2="702.5" y2="924.36" stroke="#f1f1f1" stroke-width="1"/>
<line x1="57" y1="920.93" x2="702.5" y2="920.93" stroke="#fff" stroke-width="2.2" stroke-opacity="0.6"/>
<line x1="57" y1="920.93" x2="702.5" y2="920.93" stroke="#f1f1f1" stroke-width="1"/>
<line x1="57" y1="917.5" x2="702.5" y2="917.5" stroke="#fff" stroke-width="2.2" stroke-opacity="0.6"/>
<line x1="57" y1="917.5" x2="702.5" y2="917.5" stroke="#f1f1f1" stroke-width="1"/>
<line x1="57" y1="914.07" x2="702.5" y2="914.07" stroke="#fff" stroke-width="2.2" stroke-opacity="0.6"/>
<line x1="57" y1="914.07" x2="702.5" y2="914.07" stroke="#dcdcdc" stroke-width="1"/>
<line x1="57" y1="910.64" x2="702.5" y2="910.64" stroke="#fff" stroke-width="2.2" stroke-opacity="0.6"/>
<line x1="57" y1="910.64" x2="702.5" y2="910.64" stroke="#f1f1f1" stroke-width="1"/>
<line x1="57" y1="907.21" x2="702.5" y2="907.21" stroke="#fff" stroke-width="2.2" stroke-opacity="0.6"/>
<line x1="57" y1="907.21" x2="702.5" y2="907.21" stroke="#f1f1f1" stroke-width="1"/>
<line x1="57" y1="903.79" x2="702.5" y2="903.79" stroke="#fff" stroke-width="2.2" stroke-opacity="0.6"/>
<line x1="57" y1="903.79" x2="702.5" y2="903.79" stroke="#f1f1f1" stroke-width="1"/>
<line x1="57" y1="900.36" x2="702.5" y2="900.36" stroke="#fff" stroke-width="2.2" stroke-opacity="0.6"/>
<line x1="57" y1="900.36" x2="702.5" y2="900.36" stroke="#f1f1f1" stroke-width="1"/>
<line x1="57" y1="896.93" x2="702.5" y2="896.93" stroke="#fff" stroke-width="2.2" stroke-opacity="0.6"/>
<line x1="57" y1="896.93" x2="702.5" y2="896.93" stroke="#dcdcdc" stroke-width="1"/>
<line x1="57" y1="893.5" x2="702.5" y2="893.5" stroke="#fff" stroke-width="2.2" stroke-opacity="0.6"/>
<line x1="57" y1="893.5" x2="702.5" y2="893.5" stroke="#f1f1f1" stroke-width="1"/>
<line x1="57" y1="890.07" x2="702.5" y2="890.07" stroke="#fff" stroke-width="2.2" stroke-opacity="0.6"/>
<line x1="57" y1="890.07" x2="702.5" y2="890.07" stroke="#f1f1f1" stroke-width="1"/>
<line x1="57" y1="886.64" x2="702.5" y2="886.64" stroke="#fff" stroke-width="2.2" stroke-opacity="0.6"/>
<line x1="57" y1="886.64" x2="702.5" y2="886.64" stroke="#f1f1f1" stroke-width="1"/>
<line x1="57" y1="883.21" x2="702.5" y2="883.21" stroke="#fff" stroke-width="2.2" stroke-opacity="0.6"/>
<line x1="57" y1="883.21" x2="702.5" y2="883.21" stroke="#f1f1f1" stroke-width="1"/>
<line x1="57" y1="879.79" x2="702.5" y2="879.79" stroke="#fff" stroke-width="2.2" stroke-opacity="0.6"/>
<line x1="57" y1="879.79" x2="702.5" y2="879.79" stroke="#dcdcdc" stroke-width="1"/>
<line x1="57" y1="876.36" x2="702.5" y2="876.36" stroke="#fff" stroke-width="2.2" stroke-opacity="0.6"/>
<line x1="57" y1="876.36" x2="702.5" y2="876.36" stroke="#f1f1f1" stroke-width="1"/>
<line x1="57" y1="872.93" x2="702.5" y2="872.93" stroke="#fff" stroke-width="2.2" stroke-opacity="0.6"/>
<line x1="57" y1="872.93" x2="702.5" y2="872.93" stroke="#f1f1f1" stroke-width="1"/>
<line x1="57" y1="869.5" x2="702.5" y2="869.5" stroke="#fff" stroke-width="2.2" stroke-opacity="0.6"/>
<line x1="57" y1="869.5" x2="702.5" y2="869.5" stroke="#f1f1f1" stroke-width="1"/>
<line x1="57" y1="866.07" x2="702.5" y2="866.07" stroke="#fff" stroke-width="2.2" stroke-opacity="0.6"/>
<line x1="57" y1="866.07" x2="702.5" y2="866.07" stroke="#f1f1f1" stroke-width="1"/>
<line x1="57" y1="862.64" x2="702.5" y2="862.64" stroke="#fff" stroke-width="2.2" stroke-opacity="0.6"/>
<line x1="57" y1="862.64" x2="702.5" y2="862.64" stroke="#dcdcdc" stroke-width="1"/>
<line x1="57" y1="859.21" x2="702.5" y2="859.21" stroke="#fff" stroke-width="2.2" stroke-opacity="0.6"/>
<line x1="57" y1="859.21" x2="702.5" y2="859.21" stroke="#f1f1f1" stroke-width="1"/>
<line x1="57" y1="855.79" x2="702.5" y2="855.79" stroke="#fff" stroke-width="2.2" stroke-opacity="0.6"/>
<line x1="57" y1="855.79" x2="702.5" y2="855.79" stroke="#f1f1f1" stroke-width="1"/>
<line x1="57" y1="852.36" x2="702.5" y2="852.36" stroke="#fff" stroke-width="2.2" stroke-opacity="0.6"/>
<line x1="57" y1="852.36" x2="702.5" y2="852.36" stroke="#f1f1f1" stroke-width="1"/>
<line x1="57" y1="848.93" x2="702.5" y2="848.93" stroke="#fff" stroke-width="2.2" stroke-opacity="0.6"/>
<line x1="57" y1="848.93" x2="702.5" y2="848.93" stroke="#f1f1f1" stroke-width="1"/>
<rect x="58.15" y="873.27" width="15.6" height="2.4" fill="#a9c0f2" stroke="#7098e8" stroke-width="1" fill-opacity="0.85"/>
<rect x="58.15" y="872.07" width="15.6" height="1.2" fill="#8caaf0" stroke="#6890e6" stroke-width="1" fill-opacity="0.9"/>
<line x1="58.15" y1="873.27" x2="73.75" y2="873.27" stroke="#3d6fdc" stroke-width="1.1"/>
<rect x="79.05" y="877.04" width="15.6" height="5.66" fill="#a9c0f2" stroke="#7098e8" stroke-width="1" fill-opacity="0.85"/>
<rect x="79.05" y="873.61" width="15.6" height="3.43" fill="#8caaf0" stroke="#6890e6" stroke-width="1" fill-opacity="0.9"/>
<line x1="79.05" y1="877.04" x2="94.65" y2="877.04" stroke="#3d6fdc" stroke-width="1.1"/>
<rect x="99.96" y="890.24" width="15.6" height="16.11" fill="#a9c0f2" stroke="#7098e8" stroke-width="1" fill-opacity="0.85"/>
<rect x="99.96" y="882.36" width="15.6" height="7.89" fill="#8caaf0" stroke="#6890e6" stroke-width="1" fill-opacity="0.9"/>
<line x1="99.96" y1="890.24" x2="115.56" y2="890.24" stroke="#3d6fdc" stroke-width="1.1"/>
<rect x="120.86" y="935.67" width="15.6" height="11.31" fill="#a9c0f2" stroke="#7098e8" stroke-width="1" fill-opacity="0.85"/>
<rect x="120.86" y="906.87" width="15.6" height="28.8" fill="#8caaf0" stroke="#6890e6" stroke-width="1" fill-opacity="0.9"/>
<line x1="120.86" y1="935.67" x2="136.46" y2="935.67" stroke="#3d6fdc" stroke-width="1.1"/>
<rect x="141.76" y="934.47" width="15.6" height="8.91" fill="#a9c0f2" stroke="#7098e8" stroke-width="1" fill-opacity="0.85"/>
<rect x="141.76" y="929.67" width="15.6" height="4.8" fill="#8caaf0" stroke="#6890e6" stroke-width="1" fill-opacity="0.9"/>
<line x1="141.76" y1="934.47" x2="157.36" y2="934.47" stroke="#3d6fdc" stroke-width="1.1"/>
<rect x="162.67" y="911.33" width="15.6" height="20.74" fill="#a9c0f2" stroke="#7098e8" stroke-width="1" fill-opacity="0.85"/>
<rect x="162.67" y="896.59" width="15.6" height="14.74" fill="#8caaf0" stroke="#6890e6" stroke-width="1" fill-opacity="0.9"/>
<line x1="162.67" y1="911.33" x2="178.27" y2="911.33" stroke="#3d6fdc" stroke-width="1.1"/>
<rect x="183.57" y="894.53" width="15.6" height="3.43" fill="#a9c0f2" stroke="#7098e8" stroke-width="1" fill-opacity="0.85"/>
<rect x="183.57" y="891.96" width="15.6" height="2.57" fill="#8caaf0" stroke="#6890e6" stroke-width="1" fill-opacity="0.9"/>
<line x1="183.57" y1="894.53" x2="199.17" y2="894.53" stroke="#3d6fdc" stroke-width="1.1"/>
<rect x="204.47" y="899.16" width="15.6" height="1.37" fill="#a9c0f2" stroke="#7098e8" stroke-width="1" fill-opacity="0.85"/>
<rect x="204.47" y="898.13" width="15.6" height="1.03" fill="#8caaf0" stroke="#6890e6" stroke-width="1" fill-opacity="0.9"/>
<line x1="204.47" y1="899.16" x2="220.07" y2="899.16" stroke="#3d6fdc" stroke-width="1.1"/>
<rect x="225.38" y="898.13" width="15.6" height="1.89" fill="#a9c0f2" stroke="#7098e8" stroke-width="1" fill-opacity="0.85"/>
<rect x="225.38" y="896.24" width="15.6" height="1.89" fill="#8caaf0" stroke="#6890e6" stroke-width="1" fill-opacity="0.9"/>
<line x1="225.38" y1="898.13" x2="240.98" y2="898.13" stroke="#3d6fdc" stroke-width="1.1"/>
<rect x="246.28" y="891.44" width="15.6" height="7.71" fill="#a9c0f2" stroke="#7098e8" stroke-width="1" fill-opacity="0.85"/>
<rect x="246.28" y="889.39" width="15.6" height="2.06" fill="#8caaf0" stroke="#6890e6" stroke-width="1" fill-opacity="0.9"/>
<line x1="246.28" y1="891.44" x2="261.88" y2="891.44" stroke="#3d6fdc" stroke-width="1.1"/>
<rect x="267.18" y="887.33" width="15.6" height="3.94" fill="#a9c0f2" stroke="#7098e8" stroke-width="1" fill-opacity="0.85"/>
<rect x="267.18" y="884.93" width="15.6" height="2.4" fill="#8caaf0" stroke="#6890e6" stroke-width="1" fill-opacity="0.9"/>
<line x1="267.18" y1="887.33" x2="282.78" y2="887.33" stroke="#3d6fdc" stroke-width="1.1"/>
<rect x="288.09" y="888.36" width="15.6" height="3.77" fill="#a9c0f2" stroke="#7098e8" stroke-width="1" fill-opacity="0.85"/>
<rect x="288.09" y="885.96" width="15.6" height="2.4" fill="#8caaf0" stroke="#6890e6" stroke-width="1" fill-opacity="0.9"/>
<line x1="288.09" y1="888.36" x2="303.69" y2="888.36" stroke="#3d6fdc" stroke-width="1.1"/>
<rect x="308.99" y="886.13" width="15.6" height="6.34" fill="#a9c0f2" stroke="#7098e8" stroke-width="1" fill-opacity="0.85"/>
<rect x="308.99" y="884.24" width="15.6" height="1.89" fill="#8caaf0" stroke="#6890e6" stroke-width="1" fill-opacity="0.9"/>
<line x1="308.99" y1="886.13" x2="324.59" y2="886.13" stroke="#3d6fdc" stroke-width="1.1"/>
<rect x="329.89" y="892.3" width="15.6" height="3.09" fill="#a9c0f2" stroke="#7098e8" stroke-width="1" fill-opacity="0.85"/>
<rect x="329.89" y="889.73" width="15.6" height="2.57" fill="#8caaf0" stroke="#6890e6" stroke-width="1" fill-opacity="0.9"/>
<line x1="329.89" y1="892.3" x2="345.49" y2="892.3" stroke="#3d6fdc" stroke-width="1.1"/>
<rect x="350.8" y="892.3" width="15.6" height="7.03" fill="#a9c0f2" stroke="#7098e8" stroke-width="1" fill-opacity="0.85"/>
<rect x="350.8" y="889.39" width="15.6" height="2.91" fill="#8caaf0" stroke="#6890e6" stroke-width="1" fill-opacity="0.9"/>
<line x1="350.8" y1="892.3" x2="366.4" y2="892.3" stroke="#3d6fdc" stroke-width="1.1"/>
<rect x="371.7" y="900.36" width="15.6" height="2.06" fill="#a9c0f2" stroke="#7098e8" stroke-width="1" fill-opacity="0.85"/>
<rect x="371.7" y="899.5" width="15.6" height="0.86" fill="#8caaf0" stroke="#6890e6" stroke-width="1" fill-opacity="0.9"/>
<line x1="371.7" y1="900.36" x2="387.3" y2="900.36" stroke="#3d6fdc" stroke-width="1.1"/>
<rect x="392.6" y="901.21" width="15.6" height="2.57" fill="#a9c0f2" stroke="#7098e8" stroke-width="1" fill-opacity="0.85"/>
<rect x="392.6" y="893.33" width="15.6" height="7.89" fill="#8caaf0" stroke="#6890e6" stroke-width="1" fill-opacity="0.9"/>
<line x1="392.6" y1="901.21" x2="408.2" y2="901.21" stroke="#3d6fdc" stroke-width="1.1"/>
<rect x="413.51" y="885.27" width="15.6" height="7.89" fill="#a9c0f2" stroke="#7098e8" stroke-width="1" fill-opacity="0.85"/>
<rect x="413.51" y="882.53" width="15.6" height="2.74" fill="#8caaf0" stroke="#6890e6" stroke-width="1" fill-opacity="0.9"/>
<line x1="413.51" y1="885.27" x2="429.11" y2="885.27" stroke="#3d6fdc" stroke-width="1.1"/>
<text x="65.95" y="869.77" font-size="9.3" fill="#86a4ea" text-anchor="middle">34.5</text>
<text x="65.95" y="884.37" font-size="9.3" fill="#86a4ea" text-anchor="middle">32.4</text>
<text x="86.85" y="871.31" font-size="9.3" fill="#86a4ea" text-anchor="middle">33.6</text>
<text x="86.85" y="891.4" font-size="9.3" fill="#86a4ea" text-anchor="middle">28.3</text>
<text x="107.76" y="880.06" font-size="9.3" fill="#86a4ea" text-anchor="middle">28.5</text>
<text x="107.76" y="915.06" font-size="9.3" fill="#86a4ea" text-anchor="middle">14.5</text>
<text x="128.66" y="904.57" font-size="9.3" fill="#86a4ea" text-anchor="middle">14.2</text>
<text x="128.66" y="955.69" font-size="9.3" fill="#86a4ea" text-anchor="middle">90.8</text>
<text x="149.56" y="927.37" font-size="9.3" fill="#86a4ea" text-anchor="middle">00.9</text>
<text x="149.56" y="952.09" font-size="9.3" fill="#86a4ea" text-anchor="middle">92.9</text>
<text x="170.47" y="894.29" font-size="9.3" fill="#86a4ea" text-anchor="middle">20.2</text>
<text x="170.47" y="940.77" font-size="9.3" fill="#86a4ea" text-anchor="middle">99.5</text>
<text x="191.37" y="889.66" font-size="9.3" fill="#86a4ea" text-anchor="middle">22.9</text>
<text x="191.37" y="906.66" font-size="9.3" fill="#86a4ea" text-anchor="middle">19.4</text>
<text x="212.27" y="895.83" font-size="9.3" fill="#86a4ea" text-anchor="middle">19.3</text>
<text x="212.27" y="909.23" font-size="9.3" fill="#86a4ea" text-anchor="middle">17.9</text>
<text x="233.18" y="893.94" font-size="9.3" fill="#86a4ea" text-anchor="middle">20.4</text>
<text x="233.18" y="908.71" font-size="9.3" fill="#86a4ea" text-anchor="middle">18.2</text>
<text x="254.08" y="887.09" font-size="9.3" fill="#86a4ea" text-anchor="middle">24.4</text>
<text x="254.08" y="907.86" font-size="9.3" fill="#86a4ea" text-anchor="middle">18.7</text>
<text x="274.98" y="882.63" font-size="9.3" fill="#86a4ea" text-anchor="middle">27.0</text>
<text x="274.98" y="899.97" font-size="9.3" fill="#86a4ea" text-anchor="middle">23.3</text>
<text x="295.89" y="883.66" font-size="9.3" fill="#86a4ea" text-anchor="middle">26.4</text>
<text x="295.89" y="900.83" font-size="9.3" fill="#86a4ea" text-anchor="middle">22.8</text>
<text x="316.79" y="881.94" font-size="9.3" fill="#86a4ea" text-anchor="middle">27.4</text>
<text x="316.79" y="901.17" font-size="9.3" fill="#86a4ea" text-anchor="middle">22.6</text>
<text x="337.69" y="887.43" font-size="9.3" fill="#86a4ea" text-anchor="middle">24.2</text>
<text x="337.69" y="904.09" font-size="9.3" fill="#86a4ea" text-anchor="middle">20.9</text>
<text x="358.6" y="887.09" font-size="9.3" fill="#86a4ea" text-anchor="middle">24.4</text>
<text x="358.6" y="908.03" font-size="9.3" fill="#86a4ea" text-anchor="middle">18.6</text>
<text x="379.5" y="897.2" font-size="9.3" fill="#86a4ea" text-anchor="middle">18.5</text>
<text x="379.5" y="911.11" font-size="9.3" fill="#86a4ea" text-anchor="middle">16.8</text>
<text x="400.4" y="891.03" font-size="9.3" fill="#86a4ea" text-anchor="middle">22.1</text>
<text x="400.4" y="912.49" font-size="9.3" fill="#86a4ea" text-anchor="middle">16.0</text>
<text x="421.31" y="880.23" font-size="9.3" fill="#86a4ea" text-anchor="middle">28.4</text>
<text x="421.31" y="901.86" font-size="9.3" fill="#86a4ea" text-anchor="middle">22.2</text>
<rect x="55.5" y="845.5" width="648" height="120" fill="none" stroke="#000" stroke-width="1"/>
<text x="63.1" y="858.9" font-size="11" fill="#383838" text-anchor="start">Pm: 1019.9 hPa</text>
<text x="153.79" y="858.9" font-size="11" fill="#383838" text-anchor="start">Pxx: 1034.5 hPa</text>
<text x="246.31" y="858.9" font-size="11" fill="#383838" text-anchor="start">Pnn: 990.8 hPa</text>
<text x="333.95" y="858.9" font-size="11" fill="#383838" text-anchor="start">Pmx: 1033.8 hPa</text>
<text x="430.13" y="858.9" font-size="11" fill="#383838" text-anchor="start">Pmn: 997.4 hPa</text>
<text x="51.5" y="849" font-size="12" fill="#333" text-anchor="end">1050</text>
<text x="51.5" y="866.14" font-size="12" fill="#333" text-anchor="end">1040</text>
<text x="51.5" y="883.29" font-size="12" fill="#333" text-anchor="end">1030</text>
<text x="51.5" y="900.43" font-size="12" fill="#333" text-anchor="end">1020</text>
<text x="51.5" y="917.57" font-size="12" fill="#333" text-anchor="end">1010</text>
<text x="51.5" y="934.71" font-size="12" fill="#333" text-anchor="end">1000</text>
<text x="51.5" y="951.86" font-size="12" fill="#333" text-anchor="end">990</text>
<text x="51.5" y="969" font-size="12" fill="#333" text-anchor="end">980</text>
<text x="0" y="0" font-size="12" fill="#333" text-anchor="middle" transform="translate(19.8,905.5) rotate(-90)">hPa</text>
<text x="0" y="0" font-size="12" fill="#333" text-anchor="middle" transform="translate(720,905.5) rotate(-90)">Luftdruck (NHN)</text>
<text x="65.25" y="978" font-size="11" fill="#333" text-anchor="middle">1</text>
<text x="86.15" y="978" font-size="11" fill="#333" text-anchor="middle">2</text>
<text x="107.06" y="978" font-size="11" fill="#333" text-anchor="middle">3</text>
<text x="127.96" y="978" font-size="11" fill="#333" text-anchor="middle">4</text>
<text x="148.86" y="978" font-size="11" fill="#333" text-anchor="middle">5</text>
<text x="169.77" y="978" font-size="11" fill="#333" text-anchor="middle">6</text>
<text x="190.67" y="978" font-size="11" fill="#333" text-anchor="middle">7</text>
<text x="211.57" y="978" font-size="11" fill="#333" text-anchor="middle">8</text>
<text x="232.48" y="978" font-size="11" fill="#333" text-anchor="middle">9</text>
<text x="253.38" y="978" font-size="11" fill="#333" text-anchor="middle">10</text>
<text x="274.28" y="978" font-size="11" fill="#333" text-anchor="middle">11</text>
<text x="295.19" y="978" font-size="11" fill="#333" text-anchor="middle">12</text>
<text x="316.09" y="978" font-size="11" fill="#333" text-anchor="middle">13</text>
<text x="336.99" y="978" font-size="11" fill="#333" text-anchor="middle">14</text>
<text x="357.9" y="978" font-size="11" fill="#333" text-anchor="middle">15</text>
<text x="378.8" y="978" font-size="11" fill="#333" text-anchor="middle">16</text>
<text x="399.7" y="978" font-size="11" fill="#333" text-anchor="middle">17</text>
<text x="420.61" y="978" font-size="11" fill="#333" text-anchor="middle">18</text>
<text x="441.51" y="978" font-size="11" fill="#333" text-anchor="middle">19</text>
<text x="462.41" y="978" font-size="11" fill="#333" text-anchor="middle">20</text>
<text x="483.32" y="978" font-size="11" fill="#333" text-anchor="middle">21</text>
<text x="504.22" y="978" font-size="11" fill="#333" text-anchor="middle">22</text>
<text x="525.12" y="978" font-size="11" fill="#333" text-anchor="middle">23</text>
<text x="546.03" y="978" font-size="11" fill="#333" text-anchor="middle">24</text>
<text x="566.93" y="978" font-size="11" fill="#333" text-anchor="middle">25</text>
<text x="587.83" y="978" font-size="11" fill="#333" text-anchor="middle">26</text>
<text x="608.74" y="978" font-size="11" fill="#333" text-anchor="middle">27</text>
<text x="629.64" y="978" font-size="11" fill="#333" text-anchor="middle">28</text>
<text x="650.54" y="978" font-size="11" fill="#333" text-anchor="middle">29</text>
<text x="671.45" y="978" font-size="11" fill="#333" text-anchor="middle">30</text>
<text x="692.35" y="978" font-size="11" fill="#333" text-anchor="middle">31</text>
<rect x="55.5" y="1143.85" width="648" height="1.65" fill="#f0f8fe"/>
<rect x="55.5" y="1136.72" width="648" height="7.13" fill="#eefcfd"/>
<rect x="55.5" y="1126.85" width="648" height="9.87" fill="#eefdf9"/>
<rect x="55.5" y="1115.33" width="648" height="11.52" fill="#ecfcf2"/>
<rect x="55.5" y="1101.61" width="648" height="13.71" fill="#e8fbe8"/>
<rect x="55.5" y="1086.25" width="648" height="15.36" fill="#ebfadc"/>
<rect x="55.5" y="1069.25" width="648" height="17.01" fill="#f0fadb"/>
<rect x="55.5" y="1051.15" width="648" height="18.1" fill="#f7fadb"/>
<rect x="55.5" y="1031.4" width="648" height="19.75" fill="#fbf7db"/>
<rect x="55.5" y="1011.1" width="648" height="20.3" fill="#fdeedd"/>
<rect x="55.5" y="989.16" width="648" height="21.94" fill="#fbe7dc"/>
<rect x="55.5" y="985.5" width="648" height="3.66" fill="#f9d9d9"/>
<line x1="55.5" y1="1143.85" x2="703.5" y2="1143.85" stroke="#d5ebf5" stroke-width="1"/>
<line x1="55.5" y1="1136.72" x2="703.5" y2="1136.72" stroke="#c8ebeb" stroke-width="1"/>
<line x1="55.5" y1="1126.85" x2="703.5" y2="1126.85" stroke="#cdeedd" stroke-width="1"/>
<line x1="55.5" y1="1115.33" x2="703.5" y2="1115.33" stroke="#c8ebcc" stroke-width="1"/>
<line x1="55.5" y1="1101.61" x2="703.5" y2="1101.61" stroke="#cde9c4" stroke-width="1"/>
<line x1="55.5" y1="1086.25" x2="703.5" y2="1086.25" stroke="#d5e8c0" stroke-width="1"/>
<line x1="55.5" y1="1069.25" x2="703.5" y2="1069.25" stroke="#dde6bd" stroke-width="1"/>
<line x1="55.5" y1="1051.15" x2="703.5" y2="1051.15" stroke="#e6e2bd" stroke-width="1"/>
<line x1="55.5" y1="1031.4" x2="703.5" y2="1031.4" stroke="#ebdcc0" stroke-width="1"/>
<line x1="55.5" y1="1011.1" x2="703.5" y2="1011.1" stroke="#ecd6c6" stroke-width="1"/>
<line x1="55.5" y1="989.16" x2="703.5" y2="989.16" stroke="#efcaca" stroke-width="1"/>
<line x1="76.4" y1="986.5" x2="76.4" y2="1144.5" stroke="rgba(120,100,80,0.11)" stroke-width="2"/>
<line x1="97.31" y1="986.5" x2="97.31" y2="1144.5" stroke="rgba(120,100,80,0.11)" stroke-width="2"/>
<line x1="118.21" y1="986.5" x2="118.21" y2="1144.5" stroke="rgba(120,100,80,0.11)" stroke-width="2"/>
<line x1="139.11" y1="986.5" x2="139.11" y2="1144.5" stroke="rgba(120,100,80,0.11)" stroke-width="2"/>
<line x1="160.02" y1="986.5" x2="160.02" y2="1144.5" stroke="rgba(120,100,80,0.11)" stroke-width="2"/>
<line x1="180.92" y1="986.5" x2="180.92" y2="1144.5" stroke="rgba(120,100,80,0.11)" stroke-width="2"/>
<line x1="201.82" y1="986.5" x2="201.82" y2="1144.5" stroke="rgba(120,100,80,0.11)" stroke-width="2"/>
<line x1="222.73" y1="986.5" x2="222.73" y2="1144.5" stroke="rgba(120,100,80,0.11)" stroke-width="2"/>
<line x1="243.63" y1="986.5" x2="243.63" y2="1144.5" stroke="rgba(120,100,80,0.11)" stroke-width="2"/>
<line x1="264.53" y1="986.5" x2="264.53" y2="1144.5" stroke="rgba(120,100,80,0.11)" stroke-width="2"/>
<line x1="285.44" y1="986.5" x2="285.44" y2="1144.5" stroke="rgba(120,100,80,0.11)" stroke-width="2"/>
<line x1="306.34" y1="986.5" x2="306.34" y2="1144.5" stroke="rgba(120,100,80,0.11)" stroke-width="2"/>
<line x1="327.24" y1="986.5" x2="327.24" y2="1144.5" stroke="rgba(120,100,80,0.11)" stroke-width="2"/>
<line x1="348.15" y1="986.5" x2="348.15" y2="1144.5" stroke="rgba(120,100,80,0.11)" stroke-width="2"/>
<line x1="369.05" y1="986.5" x2="369.05" y2="1144.5" stroke="rgba(120,100,80,0.11)" stroke-width="2"/>
<line x1="389.95" y1="986.5" x2="389.95" y2="1144.5" stroke="rgba(120,100,80,0.11)" stroke-width="2"/>
<line x1="410.85" y1="986.5" x2="410.85" y2="1144.5" stroke="rgba(120,100,80,0.11)" stroke-width="2"/>
<line x1="431.76" y1="986.5" x2="431.76" y2="1144.5" stroke="rgba(120,100,80,0.11)" stroke-width="2"/>
<line x1="452.66" y1="986.5" x2="452.66" y2="1144.5" stroke="rgba(120,100,80,0.11)" stroke-width="2"/>
<line x1="473.56" y1="986.5" x2="473.56" y2="1144.5" stroke="rgba(120,100,80,0.11)" stroke-width="2"/>
<line x1="494.47" y1="986.5" x2="494.47" y2="1144.5" stroke="rgba(120,100,80,0.11)" stroke-width="2"/>
<line x1="515.37" y1="986.5" x2="515.37" y2="1144.5" stroke="rgba(120,100,80,0.11)" stroke-width="2"/>
<line x1="536.27" y1="986.5" x2="536.27" y2="1144.5" stroke="rgba(120,100,80,0.11)" stroke-width="2"/>
<line x1="557.18" y1="986.5" x2="557.18" y2="1144.5" stroke="rgba(120,100,80,0.11)" stroke-width="2"/>
<line x1="578.08" y1="986.5" x2="578.08" y2="1144.5" stroke="rgba(120,100,80,0.11)" stroke-width="2"/>
<line x1="598.98" y1="986.5" x2="598.98" y2="1144.5" stroke="rgba(120,100,80,0.11)" stroke-width="2"/>
<line x1="619.89" y1="986.5" x2="619.89" y2="1144.5" stroke="rgba(120,100,80,0.11)" stroke-width="2"/>
<line x1="640.79" y1="986.5" x2="640.79" y2="1144.5" stroke="rgba(120,100,80,0.11)" stroke-width="2"/>
<line x1="661.69" y1="986.5" x2="661.69" y2="1144.5" stroke="rgba(120,100,80,0.11)" stroke-width="2"/>
<line x1="682.6" y1="986.5" x2="682.6" y2="1144.5" stroke="rgba(120,100,80,0.11)" stroke-width="2"/>
<text x="135.6" y="1125.29" font-size="14" fill="#c4ebd4" text-anchor="middle" stroke="#c4ebd4" stroke-width="0.15">3</text>
<text x="135.6" y="1112.67" font-size="14" fill="#bbe7c1" text-anchor="middle" stroke="#bbe7c1" stroke-width="0.15">4</text>
<text x="135.6" y="1098.13" font-size="14" fill="#cbdfb5" text-anchor="middle" stroke="#cbdfb5" stroke-width="0.15">5</text>
<text x="135.6" y="1081.95" font-size="14" fill="#d5dfb6" text-anchor="middle" stroke="#d5dfb6" stroke-width="0.15">6</text>
<text x="135.6" y="1064.4" font-size="14" fill="#dcdeb8" text-anchor="middle" stroke="#dcdeb8" stroke-width="0.15">7</text>
<text x="135.6" y="1045.47" font-size="14" fill="#e4d9ba" text-anchor="middle" stroke="#e4d9ba" stroke-width="0.15">8</text>
<text x="135.6" y="1025.45" font-size="14" fill="#e8d3bc" text-anchor="middle" stroke="#e8d3bc" stroke-width="0.15">9</text>
<text x="135.6" y="1004.33" font-size="14" fill="#eacbbf" text-anchor="middle" stroke="#eacbbf" stroke-width="0.15">10</text>
<text x="297.6" y="1125.29" font-size="14" fill="#c4ebd4" text-anchor="middle" stroke="#c4ebd4" stroke-width="0.15">3</text>
<text x="297.6" y="1112.67" font-size="14" fill="#bbe7c1" text-anchor="middle" stroke="#bbe7c1" stroke-width="0.15">4</text>
<text x="297.6" y="1098.13" font-size="14" fill="#cbdfb5" text-anchor="middle" stroke="#cbdfb5" stroke-width="0.15">5</text>
<text x="297.6" y="1081.95" font-size="14" fill="#d5dfb6" text-anchor="middle" stroke="#d5dfb6" stroke-width="0.15">6</text>
<text x="297.6" y="1064.4" font-size="14" fill="#dcdeb8" text-anchor="middle" stroke="#dcdeb8" stroke-width="0.15">7</text>
<text x="297.6" y="1045.47" font-size="14" fill="#e4d9ba" text-anchor="middle" stroke="#e4d9ba" stroke-width="0.15">8</text>
<text x="297.6" y="1025.45" font-size="14" fill="#e8d3bc" text-anchor="middle" stroke="#e8d3bc" stroke-width="0.15">9</text>
<text x="297.6" y="1004.33" font-size="14" fill="#eacbbf" text-anchor="middle" stroke="#eacbbf" stroke-width="0.15">10</text>
<text x="459.6" y="1125.29" font-size="14" fill="#c4ebd4" text-anchor="middle" stroke="#c4ebd4" stroke-width="0.15">3</text>
<text x="459.6" y="1112.67" font-size="14" fill="#bbe7c1" text-anchor="middle" stroke="#bbe7c1" stroke-width="0.15">4</text>
<text x="459.6" y="1098.13" font-size="14" fill="#cbdfb5" text-anchor="middle" stroke="#cbdfb5" stroke-width="0.15">5</text>
<text x="459.6" y="1081.95" font-size="14" fill="#d5dfb6" text-anchor="middle" stroke="#d5dfb6" stroke-width="0.15">6</text>
<text x="459.6" y="1064.4" font-size="14" fill="#dcdeb8" text-anchor="middle" stroke="#dcdeb8" stroke-width="0.15">7</text>
<text x="459.6" y="1045.47" font-size="14" fill="#e4d9ba" text-anchor="middle" stroke="#e4d9ba" stroke-width="0.15">8</text>
<text x="459.6" y="1025.45" font-size="14" fill="#e8d3bc" text-anchor="middle" stroke="#e8d3bc" stroke-width="0.15">9</text>
<text x="459.6" y="1004.33" font-size="14" fill="#eacbbf" text-anchor="middle" stroke="#eacbbf" stroke-width="0.15">10</text>
<text x="621.6" y="1125.29" font-size="14" fill="#c4ebd4" text-anchor="middle" stroke="#c4ebd4" stroke-width="0.15">3</text>
<text x="621.6" y="1112.67" font-size="14" fill="#bbe7c1" text-anchor="middle" stroke="#bbe7c1" stroke-width="0.15">4</text>
<text x="621.6" y="1098.13" font-size="14" fill="#cbdfb5" text-anchor="middle" stroke="#cbdfb5" stroke-width="0.15">5</text>
<text x="621.6" y="1081.95" font-size="14" fill="#d5dfb6" text-anchor="middle" stroke="#d5dfb6" stroke-width="0.15">6</text>
<text x="621.6" y="1064.4" font-size="14" fill="#dcdeb8" text-anchor="middle" stroke="#dcdeb8" stroke-width="0.15">7</text>
<text x="621.6" y="1045.47" font-size="14" fill="#e4d9ba" text-anchor="middle" stroke="#e4d9ba" stroke-width="0.15">8</text>
<text x="621.6" y="1025.45" font-size="14" fill="#e8d3bc" text-anchor="middle" stroke="#e8d3bc" stroke-width="0.15">9</text>
<text x="621.6" y="1004.33" font-size="14" fill="#eacbbf" text-anchor="middle" stroke="#eacbbf" stroke-width="0.15">10</text>
<polyline points="65.45,1133.83 86.35,1130.79 107.26,1112.5 128.16,1083.55 149.06,1075.93 169.97,1094.21 190.87,1121.64 211.77,1109.45 232.68,1101.83 253.58,1091.17 274.48,1095.74 295.39,1110.98 316.29,1123.17 337.19,1127.74 358.1,1115.55 379,1104.88 399.9,1109.45 420.81,1124.69" fill="none" stroke="#f5844a" stroke-width="1.0"/>
<circle cx="65.45" cy="1133.83" r="1.5" fill="#f5844a"/>
<circle cx="86.35" cy="1130.79" r="1.5" fill="#f5844a"/>
<circle cx="107.26" cy="1112.5" r="1.5" fill="#f5844a"/>
<circle cx="128.16" cy="1083.55" r="1.5" fill="#f5844a"/>
<circle cx="149.06" cy="1075.93" r="1.5" fill="#f5844a"/>
<circle cx="169.97" cy="1094.21" r="1.5" fill="#f5844a"/>
<circle cx="190.87" cy="1121.64" r="1.5" fill="#f5844a"/>
<circle cx="211.77" cy="1109.45" r="1.5" fill="#f5844a"/>
<circle cx="232.68" cy="1101.83" r="1.5" fill="#f5844a"/>
<circle cx="253.58" cy="1091.17" r="1.5" fill="#f5844a"/>
<circle cx="274.48" cy="1095.74" r="1.5" fill="#f5844a"/>
<circle cx="295.39" cy="1110.98" r="1.5" fill="#f5844a"/>
<circle cx="316.29" cy="1123.17" r="1.5" fill="#f5844a"/>
<circle cx="337.19" cy="1127.74" r="1.5" fill="#f5844a"/>
<circle cx="358.1" cy="1115.55" r="1.5" fill="#f5844a"/>
<circle cx="379" cy="1104.88" r="1.5" fill="#f5844a"/>
<circle cx="399.9" cy="1109.45" r="1.5" fill="#f5844a"/>
<circle cx="420.81" cy="1124.69" r="1.5" fill="#f5844a"/>
<text x="65.45" y="1130.83" font-size="9.3" fill="#f5844a" text-anchor="middle">7</text>
<text x="86.35" y="1127.79" font-size="9.3" fill="#f5844a" text-anchor="middle">9</text>
<text x="107.26" y="1109.5" font-size="9.3" fill="#f5844a" text-anchor="middle">21</text>
<text x="128.16" y="1080.55" font-size="9.3" fill="#f5844a" text-anchor="middle">40</text>
<text x="149.06" y="1072.93" font-size="9.3" fill="#f5844a" text-anchor="middle">45</text>
<text x="169.97" y="1091.21" font-size="9.3" fill="#f5844a" text-anchor="middle">33</text>
<text x="190.87" y="1118.64" font-size="9.3" fill="#f5844a" text-anchor="middle">15</text>
<text x="211.77" y="1106.45" font-size="9.3" fill="#f5844a" text-anchor="middle">23</text>
<text x="232.68" y="1098.83" font-size="9.3" fill="#f5844a" text-anchor="middle">28</text>
<text x="253.58" y="1088.17" font-size="9.3" fill="#f5844a" text-anchor="middle">35</text>
<text x="274.48" y="1092.74" font-size="9.3" fill="#f5844a" text-anchor="middle">32</text>
<text x="295.39" y="1107.98" font-size="9.3" fill="#f5844a" text-anchor="middle">22</text>
<text x="316.29" y="1120.17" font-size="9.3" fill="#f5844a" text-anchor="middle">14</text>
<text x="337.19" y="1124.74" font-size="9.3" fill="#f5844a" text-anchor="middle">11</text>
<text x="358.1" y="1112.55" font-size="9.3" fill="#f5844a" text-anchor="middle">19</text>
<text x="379" y="1101.88" font-size="9.3" fill="#f5844a" text-anchor="middle">26</text>
<text x="399.9" y="1106.45" font-size="9.3" fill="#f5844a" text-anchor="middle">23</text>
<text x="420.81" y="1121.69" font-size="9.3" fill="#f5844a" text-anchor="middle">13</text>
<polyline points="65.45,1110.98 86.35,1089.64 107.26,1057.64 128.16,1021.07 149.06,1021.07 169.97,1013.45 190.87,1092.69 211.77,1080.5 232.68,1043.93 253.58,1046.98 274.48,1034.79 295.39,1063.74 316.29,1097.26 337.19,1098.79 358.1,1066.79 379,1075.93 399.9,1057.64 420.81,1069.83" fill="none" stroke="#cc1f86" stroke-width="1.15"/>
<circle cx="65.45" cy="1110.98" r="1.6" fill="#cc1f86"/>
<circle cx="86.35" cy="1089.64" r="1.6" fill="#cc1f86"/>
<circle cx="107.26" cy="1057.64" r="1.6" fill="#cc1f86"/>
<circle cx="128.16" cy="1021.07" r="1.6" fill="#cc1f86"/>
<circle cx="149.06" cy="1021.07" r="1.6" fill="#cc1f86"/>
<circle cx="169.97" cy="1013.45" r="1.6" fill="#cc1f86"/>
<circle cx="190.87" cy="1092.69" r="1.6" fill="#cc1f86"/>
<circle cx="211.77" cy="1080.5" r="1.6" fill="#cc1f86"/>
<circle cx="232.68" cy="1043.93" r="1.6" fill="#cc1f86"/>
<circle cx="253.58" cy="1046.98" r="1.6" fill="#cc1f86"/>
<circle cx="274.48" cy="1034.79" r="1.6" fill="#cc1f86"/>
<circle cx="295.39" cy="1063.74" r="1.6" fill="#cc1f86"/>
<circle cx="316.29" cy="1097.26" r="1.6" fill="#cc1f86"/>
<circle cx="337.19" cy="1098.79" r="1.6" fill="#cc1f86"/>
<circle cx="358.1" cy="1066.79" r="1.6" fill="#cc1f86"/>
<circle cx="379" cy="1075.93" r="1.6" fill="#cc1f86"/>
<circle cx="399.9" cy="1057.64" r="1.6" fill="#cc1f86"/>
<circle cx="420.81" cy="1069.83" r="1.6" fill="#cc1f86"/>
<text x="65.45" y="1107.98" font-size="9.3" fill="#cc1f86" text-anchor="middle">22</text>
<text x="86.35" y="1086.64" font-size="9.3" fill="#cc1f86" text-anchor="middle">36</text>
<text x="107.26" y="1054.64" font-size="9.3" fill="#cc1f86" text-anchor="middle">57</text>
<text x="128.16" y="1018.07" font-size="9.3" fill="#cc1f86" text-anchor="middle">81</text>
<text x="149.06" y="1018.07" font-size="9.3" fill="#cc1f86" text-anchor="middle">81</text>
<text x="169.97" y="1010.45" font-size="9.3" fill="#cc1f86" text-anchor="middle">86</text>
<text x="190.87" y="1089.69" font-size="9.3" fill="#cc1f86" text-anchor="middle">34</text>
<text x="211.77" y="1077.5" font-size="9.3" fill="#cc1f86" text-anchor="middle">42</text>
<text x="232.68" y="1040.93" font-size="9.3" fill="#cc1f86" text-anchor="middle">66</text>
<text x="253.58" y="1043.98" font-size="9.3" fill="#cc1f86" text-anchor="middle">64</text>
<text x="274.48" y="1031.79" font-size="9.3" fill="#cc1f86" text-anchor="middle">72</text>
<text x="295.39" y="1060.74" font-size="9.3" fill="#cc1f86" text-anchor="middle">53</text>
<text x="316.29" y="1094.26" font-size="9.3" fill="#cc1f86" text-anchor="middle">31</text>
<text x="337.19" y="1095.79" font-size="9.3" fill="#cc1f86" text-anchor="middle">30</text>
<text x="358.1" y="1063.79" font-size="9.3" fill="#cc1f86" text-anchor="middle">51</text>
<text x="379" y="1072.93" font-size="9.3" fill="#cc1f86" text-anchor="middle">45</text>
<text x="399.9" y="1054.64" font-size="9.3" fill="#cc1f86" text-anchor="middle">57</text>
<text x="420.81" y="1066.83" font-size="9.3" fill="#cc1f86" text-anchor="middle">49</text>
<line x1="431.76" y1="986.5" x2="431.76" y2="1144.5" stroke="rgba(240,150,160,0.45)" stroke-width="1.5"/>
<rect x="55.5" y="985.5" width="648" height="160" fill="none" stroke="#000" stroke-width="1"/>
<text x="63.1" y="999.2" font-size="11" fill="#555" text-anchor="start">Ff: 23.2 km/h</text>
<text x="139.09" y="999.2" font-size="11" fill="#555" text-anchor="start">Fxm: 53.1 km/h</text>
<text x="226.69" y="999.2" font-size="11" fill="#555" text-anchor="start">Fxx: 86.0 km/h</text>
<text x="310.62" y="999.2" font-size="11" fill="#555" text-anchor="start">Fmx: 69.8 km/h</text>
<text x="398.22" y="999.2" font-size="11" fill="#555" text-anchor="start">Ffx: 44.6 km/h</text>
<text x="479.71" y="999.2" font-size="11" fill="#555" text-anchor="start">nFx≥12Bft: 0</text>
<text x="51.5" y="989" font-size="12" fill="#333" text-anchor="end">105</text>
<text x="51.5" y="1011.86" font-size="12" fill="#333" text-anchor="end">90</text>
<text x="51.5" y="1034.71" font-size="12" fill="#333" text-anchor="end">75</text>
<text x="51.5" y="1057.57" font-size="12" fill="#333" text-anchor="end">60</text>
<text x="51.5" y="1080.43" font-size="12" fill="#333" text-anchor="end">45</text>
<text x="51.5" y="1103.29" font-size="12" fill="#333" text-anchor="end">30</text>
<text x="51.5" y="1126.14" font-size="12" fill="#333" text-anchor="end">15</text>
<text x="51.5" y="1149" font-size="12" fill="#333" text-anchor="end">0</text>
<text x="0" y="0" font-size="12" fill="#333" text-anchor="middle" transform="translate(27,1065.5) rotate(-90)">km/h</text>
<text x="0" y="0" font-size="12" fill="#333" text-anchor="middle" transform="translate(720,1065.5) rotate(-90)">Windgeschwindigkeit</text>
<text x="65.25" y="1158" font-size="11" fill="#333" text-anchor="middle">1</text>
<text x="86.15" y="1158" font-size="11" fill="#333" text-anchor="middle">2</text>
<text x="107.06" y="1158" font-size="11" fill="#333" text-anchor="middle">3</text>
<text x="127.96" y="1158" font-size="11" fill="#333" text-anchor="middle">4</text>
<text x="148.86" y="1158" font-size="11" fill="#333" text-anchor="middle">5</text>
<text x="169.77" y="1158" font-size="11" fill="#333" text-anchor="middle">6</text>
<text x="190.67" y="1158" font-size="11" fill="#333" text-anchor="middle">7</text>
<text x="211.57" y="1158" font-size="11" fill="#333" text-anchor="middle">8</text>
<text x="232.48" y="1158" font-size="11" fill="#333" text-anchor="middle">9</text>
<text x="253.38" y="1158" font-size="11" fill="#333" text-anchor="middle">10</text>
<text x="274.28" y="1158" font-size="11" fill="#333" text-anchor="middle">11</text>
<text x="295.19" y="1158" font-size="11" fill="#333" text-anchor="middle">12</text>
<text x="316.09" y="1158" font-size="11" fill="#333" text-anchor="middle">13</text>
<text x="336.99" y="1158" font-size="11" fill="#333" text-anchor="middle">14</text>
<text x="357.9" y="1158" font-size="11" fill="#333" text-anchor="middle">15</text>
<text x="378.8" y="1158" font-size="11" fill="#333" text-anchor="middle">16</text>
<text x="399.7" y="1158" font-size="11" fill="#333" text-anchor="middle">17</text>
<text x="420.61" y="1158" font-size="11" fill="#333" text-anchor="middle">18</text>
<text x="441.51" y="1158" font-size="11" fill="#333" text-anchor="middle">19</text>
<text x="462.41" y="1158" font-size="11" fill="#333" text-anchor="middle">20</text>
<text x="483.32" y="1158" font-size="11" fill="#333" text-anchor="middle">21</text>
<text x="504.22" y="1158" font-size="11" fill="#333" text-anchor="middle">22</text>
<text x="525.12" y="1158" font-size="11" fill="#333" text-anchor="middle">23</text>
<text x="546.03" y="1158" font-size="11" fill="#333" text-anchor="middle">24</text>
<text x="566.93" y="1158" font-size="11" fill="#333" text-anchor="middle">25</text>
<text x="587.83" y="1158" font-size="11" fill="#333" text-anchor="middle">26</text>
<text x="608.74" y="1158" font-size="11" fill="#333" text-anchor="middle">27</text>
<text x="629.64" y="1158" font-size="11" fill="#333" text-anchor="middle">28</text>
<text x="650.54" y="1158" font-size="11" fill="#333" text-anchor="middle">29</text>
<text x="671.45" y="1158" font-size="11" fill="#333" text-anchor="middle">30</text>
<text x="692.35" y="1158" font-size="11" fill="#333" text-anchor="middle">31</text>
<text x="365" y="1171" font-size="11" fill="#999" text-anchor="middle">Datenbasis: Deutscher Wetterdienst, dwd.de | Meteogramm erstellt von mtwetter.de | 2025-10-18T22:10:49Z</text>
</svg>
</body></html>
